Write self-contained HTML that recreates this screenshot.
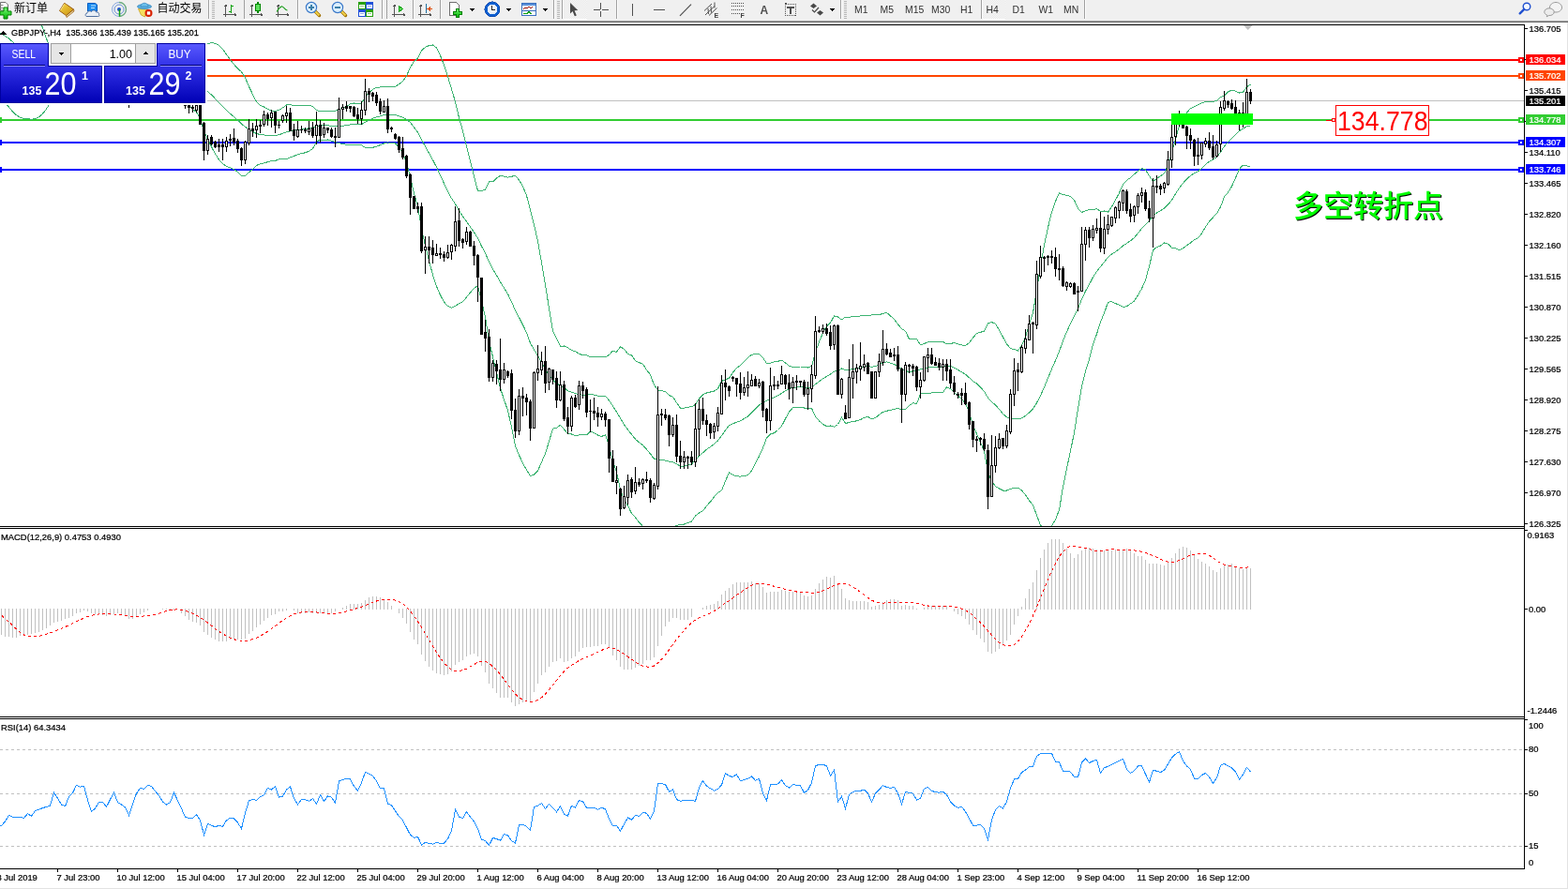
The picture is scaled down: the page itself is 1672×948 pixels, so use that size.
<!DOCTYPE html>
<html><head><meta charset="utf-8"><title>GBPJPY H4</title>
<style>
html,body{margin:0;padding:0;width:1672px;height:948px;overflow:hidden;background:#f0f0f0;}
</style></head><body>
<svg width="1672" height="948" viewBox="0 0 1672 948" style="position:absolute;left:0;top:0" shape-rendering="crispEdges">
<rect x="0" y="22" width="1672" height="926" fill="#fff"/>
<defs><pattern id="chk" width="2" height="2" patternUnits="userSpaceOnUse"><rect width="2" height="2" fill="#f7f7f7"/><rect width="1" height="1" fill="#e9e9e9"/><rect x="1" y="1" width="1" height="1" fill="#e9e9e9"/></pattern><linearGradient id="gplus" x1="0" y1="0" x2="0" y2="1"><stop offset="0" stop-color="#7cff7c"/><stop offset="1" stop-color="#00b000"/></linearGradient><linearGradient id="gold" x1="0" y1="0" x2="1" y2="1"><stop offset="0" stop-color="#f8d848"/><stop offset="1" stop-color="#c89010"/></linearGradient><radialGradient id="clk" cx="0.45" cy="0.4" r="0.6"><stop offset="0" stop-color="#ffffff"/><stop offset="0.7" stop-color="#e8f0f8"/><stop offset="1" stop-color="#c0d8f0"/></radialGradient></defs>
<rect x="0" y="0" width="1672" height="22" fill="#f0f0f0"/>
<g shape-rendering="geometricPrecision">
<path d="M0.5 2.5h5.5l2.5 2.5v6h-8z" fill="#fff" stroke="#707070" stroke-width="1"/>
<path d="M0.5 5.5h3M0.5 8.5h5" stroke="#909090" stroke-width="1"/>
<path d="M4 8h4v4h4v4h-4v4h-4v-4h-4v-4h4z" fill="url(#gplus)" stroke="#008000" stroke-width="1"/>
<path d="M70.5 16.5l8-6.5 0.5 2-8 6.5z" fill="#e8d8a0" stroke="#9a5c10" stroke-width="0.8"/>
<path d="M63.5 11.5L68.5 3.5c1 0 1.5 0.5 2 1l8 5.5-8 6.5z" fill="url(#gold)" stroke="#9a5c10" stroke-width="1"/>
<path d="M68.5 4.5l-4 6.5" fill="none" stroke="#fff2b0" stroke-width="0.8"/>
<path d="M93.5 3.5h8l2 1.5v7h-10z" fill="#1a8cf0" stroke="#0a5cc0" stroke-width="1"/>
<path d="M97 6h5M97 8.5h4" stroke="#bfe4ff" stroke-width="1"/>
<path d="M92 17.5c-1.5-1-1-3.5 1-3.5c0-2 3-3 4.5-1.5c1-2 4.5-2 5 0.5c2-0.5 3.5 1 3 2.5c1 1 0.5 2-1 2z" fill="#e8eef6" stroke="#5070a0" stroke-width="1"/>
<circle cx="127" cy="10" r="7.5" fill="none" stroke="#5c8ad8" stroke-width="1" stroke-opacity="0.7"/>
<circle cx="127" cy="10" r="5" fill="none" stroke="#4a78d0" stroke-width="1" stroke-opacity="0.8"/>
<path d="M127 2.5a7.5 7.5 0 0 1 0 15" fill="none" stroke="#5aa85a" stroke-width="1.4" stroke-opacity="0.7"/>
<circle cx="127" cy="10" r="2" fill="#2050c8"/><path d="M127.5 10v7.5" stroke="#10a010" stroke-width="1.5"/>
<path d="M147.5 9.5l3 6.5 4 2 3-8z" fill="#f4e060" stroke="#c8a020" stroke-width="0.8"/>
<ellipse cx="154" cy="7" rx="7.5" ry="2.5" fill="#5ab0e0" stroke="#3a88c0" stroke-width="0.8"/>
<path d="M150 7c0-5 8-5 8 0z" fill="#6cc0ec" stroke="#3a88c0" stroke-width="0.8"/>
<circle cx="158.5" cy="14" r="4" fill="#d82000"/><rect x="156.8" y="12.3" width="3.4" height="3.4" fill="#fff"/>
</g>
<text x="15" y="12.5" font-family="'Liberation Sans', 'Noto Sans CJK SC', 'WenQuanYi Zen Hei', sans-serif" font-size="12" fill="#000">新订单</text>
<text x="167.5" y="12.5" font-family="'Liberation Sans', 'Noto Sans CJK SC', 'WenQuanYi Zen Hei', sans-serif" font-size="12" fill="#000">自动交易</text>
<rect x="222" y="0" width="1" height="20" fill="#a0a0a0"/><rect x="223" y="0" width="1" height="20" fill="#ffffff"/>
<rect x="226" y="1" width="3" height="1" fill="#b8b8b8"/><rect x="226" y="3" width="3" height="1" fill="#b8b8b8"/><rect x="226" y="5" width="3" height="1" fill="#b8b8b8"/><rect x="226" y="7" width="3" height="1" fill="#b8b8b8"/><rect x="226" y="9" width="3" height="1" fill="#b8b8b8"/><rect x="226" y="11" width="3" height="1" fill="#b8b8b8"/><rect x="226" y="13" width="3" height="1" fill="#b8b8b8"/><rect x="226" y="15" width="3" height="1" fill="#b8b8b8"/><rect x="226" y="17" width="3" height="1" fill="#b8b8b8"/><rect x="226" y="19" width="3" height="1" fill="#b8b8b8"/>
<g shape-rendering="crispEdges" fill="#555555"><rect x="240.0" y="5" width="1" height="13"/><rect x="239.0" y="6" width="3" height="1"/><rect x="239.5" y="5" width="2" height="1"/><rect x="238.0" y="15.0" width="14" height="1"/><rect x="250.0" y="14.0" width="1" height="3"/><rect x="251.0" y="14.5" width="1" height="2"/></g>
<path d="M246.5 5v8.5M246.5 6.5h2.5M244 12.5h2.5" stroke="#10a010" stroke-width="1.2" fill="none"/>
<rect x="260" y="0" width="1" height="20" fill="#a0a0a0"/><rect x="261" y="0" width="1" height="20" fill="#ffffff"/>
<rect x="261" y="0" width="25" height="20" fill="url(#chk)"/><rect x="261" y="20" width="25" height="1" fill="#ffffff"/>
<g shape-rendering="crispEdges" fill="#555555"><rect x="268.0" y="5" width="1" height="13"/><rect x="267.0" y="6" width="3" height="1"/><rect x="267.5" y="5" width="2" height="1"/><rect x="266.0" y="15.0" width="14" height="1"/><rect x="278.0" y="14.0" width="1" height="3"/><rect x="279.0" y="14.5" width="1" height="2"/></g>
<path d="M275 2v12" stroke="#008800" stroke-width="1.2"/><rect x="272.7" y="4.5" width="4.6" height="7.4" fill="#60e060" stroke="#008800" stroke-width="1"/>
<g shape-rendering="crispEdges" fill="#555555"><rect x="296.0" y="5" width="1" height="13"/><rect x="295.0" y="6" width="3" height="1"/><rect x="295.5" y="5" width="2" height="1"/><rect x="294.0" y="15.0" width="14" height="1"/><rect x="306.0" y="14.0" width="1" height="3"/><rect x="307.0" y="14.5" width="1" height="2"/></g>
<path d="M295 12.5c2-2.5 4-6 6-5.5s3 4 5.5 4" stroke="#20a020" stroke-width="1.2" fill="none" shape-rendering="geometricPrecision"/>
<rect x="317" y="0" width="1" height="20" fill="#a0a0a0"/><rect x="318" y="0" width="1" height="20" fill="#ffffff"/>
<g shape-rendering="geometricPrecision"><path d="M335.5 11.5l5 5" stroke="#a07000" stroke-width="3.4" stroke-linecap="round"/><path d="M335.5 11.5l5 5" stroke="#f0d048" stroke-width="2"/><circle cx="332" cy="8" r="5.6" fill="#dcefff" stroke="#3a78c8" stroke-width="1.2"/><path d="M329 8h6" stroke="#3c7fa8" stroke-width="2"/><path d="M332 5v6" stroke="#3c7fa8" stroke-width="2"/></g>
<g shape-rendering="geometricPrecision"><path d="M363.5 11.5l5 5" stroke="#a07000" stroke-width="3.4" stroke-linecap="round"/><path d="M363.5 11.5l5 5" stroke="#f0d048" stroke-width="2"/><circle cx="360" cy="8" r="5.6" fill="#dcefff" stroke="#3a78c8" stroke-width="1.2"/><path d="M357 8h6" stroke="#3c7fa8" stroke-width="2"/></g>
<rect x="382" y="2" width="8" height="8" fill="#28a010"/><rect x="383" y="5" width="6" height="4" fill="#fff"/><rect x="384" y="6" width="4" height="1" fill="#28a010" opacity="0.5"/>
<rect x="390" y="2" width="8" height="8" fill="#2050d8"/><rect x="391" y="5" width="6" height="4" fill="#fff"/><rect x="392" y="6" width="4" height="1" fill="#2050d8" opacity="0.5"/>
<rect x="382" y="10" width="8" height="8" fill="#2050d8"/><rect x="383" y="13" width="6" height="4" fill="#fff"/><rect x="384" y="14" width="4" height="1" fill="#2050d8" opacity="0.5"/>
<rect x="390" y="10" width="8" height="8" fill="#28a010"/><rect x="391" y="13" width="6" height="4" fill="#fff"/><rect x="392" y="14" width="4" height="1" fill="#28a010" opacity="0.5"/>
<rect x="407" y="0" width="1" height="20" fill="#a0a0a0"/><rect x="408" y="0" width="1" height="20" fill="#ffffff"/>
<rect x="412" y="0" width="1" height="20" fill="#a0a0a0"/><rect x="413" y="0" width="1" height="20" fill="#ffffff"/>
<rect x="413" y="0" width="25" height="20" fill="url(#chk)"/><rect x="413" y="20" width="25" height="1" fill="#ffffff"/>
<g shape-rendering="crispEdges" fill="#555555"><rect x="420.0" y="5" width="1" height="13"/><rect x="419.0" y="6" width="3" height="1"/><rect x="419.5" y="5" width="2" height="1"/><rect x="418.0" y="15.0" width="14" height="1"/><rect x="430.0" y="14.0" width="1" height="3"/><rect x="431.0" y="14.5" width="1" height="2"/></g>
<path d="M425.5 6.5v6l4-3z" fill="#60e060" stroke="#10a010" stroke-width="1"/>
<rect x="440" y="0" width="1" height="20" fill="#a0a0a0"/><rect x="441" y="0" width="1" height="20" fill="#ffffff"/>
<rect x="442" y="0" width="24" height="20" fill="url(#chk)"/><rect x="442" y="20" width="24" height="1" fill="#ffffff"/>
<g shape-rendering="crispEdges" fill="#555555"><rect x="448.0" y="5" width="1" height="13"/><rect x="447.0" y="6" width="3" height="1"/><rect x="447.5" y="5" width="2" height="1"/><rect x="446.0" y="15.0" width="14" height="1"/><rect x="458.0" y="14.0" width="1" height="3"/><rect x="459.0" y="14.5" width="1" height="2"/></g>
<path d="M454.5 4v9.5" stroke="#2070a0" stroke-width="1.2"/><path d="M455.5 9.5l3-2.5v1.8h2v1.4h-2v1.8z" fill="#e05010"/>
<rect x="469" y="0" width="1" height="20" fill="#a0a0a0"/><rect x="470" y="0" width="1" height="20" fill="#ffffff"/>
<path d="M479.5 2.5h7l2.5 2.5v11h-9.5z" fill="#fff" stroke="#707070" stroke-width="1"/>
<path d="M486 9h3v3h3v3h-3v3h-3v-3h-3v-3h3z" fill="url(#gplus)" stroke="#008000" stroke-width="1"/>
<path d="M500.5 9h6l-3 3z" fill="#000"/>
<circle cx="525" cy="10" r="6.8" fill="url(#clk)" stroke="#1060d0" stroke-width="2.6"/><circle cx="525" cy="10" r="8.1" fill="none" stroke="#0a40a0" stroke-width="0.6"/>
<path d="M524.5 6v4.5h3" stroke="#202020" stroke-width="1.2" fill="none"/>
<path d="M539.5 9h6l-3 3z" fill="#000"/>
<rect x="556.5" y="3.5" width="15" height="13" fill="#fff" stroke="#3a70c0" stroke-width="1"/><rect x="557" y="4" width="14" height="2" fill="#5a90d8"/><path d="M557 11h14" stroke="#3a70c0"/>
<path d="M558 9.5l2-1 2 0.5 2-1.5 2 1 2-1" stroke="#a01000" stroke-width="1" fill="none"/><path d="M558 15l2-1 2 0.5 2-2 2 2 1.5-1" stroke="#10a010" stroke-width="1" fill="none"/>
<path d="M578.5 9h6l-3 3z" fill="#000"/>
<rect x="590" y="0" width="1" height="20" fill="#a0a0a0"/><rect x="591" y="0" width="1" height="20" fill="#ffffff"/>
<rect x="594" y="1" width="3" height="1" fill="#b8b8b8"/><rect x="594" y="3" width="3" height="1" fill="#b8b8b8"/><rect x="594" y="5" width="3" height="1" fill="#b8b8b8"/><rect x="594" y="7" width="3" height="1" fill="#b8b8b8"/><rect x="594" y="9" width="3" height="1" fill="#b8b8b8"/><rect x="594" y="11" width="3" height="1" fill="#b8b8b8"/><rect x="594" y="13" width="3" height="1" fill="#b8b8b8"/><rect x="594" y="15" width="3" height="1" fill="#b8b8b8"/><rect x="594" y="17" width="3" height="1" fill="#b8b8b8"/><rect x="594" y="19" width="3" height="1" fill="#b8b8b8"/>
<rect x="599" y="0" width="1" height="20" fill="#a0a0a0"/><rect x="600" y="0" width="1" height="20" fill="#ffffff"/>
<rect x="601" y="0" width="25" height="20" fill="url(#chk)"/><rect x="601" y="20" width="25" height="1" fill="#ffffff"/>
<path d="M608 3L608 14.5L610.6 12L612.8 17.2L614.8 16.4L612.6 11.3L616.2 11.1Z" fill="#484848" shape-rendering="geometricPrecision"/>
<path d="M640.5 3v7M640.5 11.5v6M633 10.5h7M641.5 10.5h7" stroke="#505050" stroke-width="1.2"/>
<rect x="657" y="0" width="1" height="20" fill="#a0a0a0"/><rect x="658" y="0" width="1" height="20" fill="#ffffff"/>
<path d="M674.5 4v13" stroke="#505050" stroke-width="1.3"/>
<path d="M697 10.5h12" stroke="#505050" stroke-width="1.3"/>
<path d="M725 16.8L737 4.7" stroke="#505050" stroke-width="1.2" shape-rendering="geometricPrecision"/>
<g shape-rendering="geometricPrecision" stroke="#505050" fill="none" stroke-width="1"><path d="M751 11.5l8-7.5M752 16l10-9.5M756 16.5l8.5-8"/><path d="M755 9l0.5 6M758 6.5l0.5 7M762 2.5v6"/></g>
<text x="761.5" y="19" font-family="'Liberation Sans', Arial, sans-serif" font-size="7" font-weight="bold" fill="#404040">E</text>
<path d="M780 3.5h13" stroke="#505050" stroke-width="1" stroke-dasharray="1,1"/>
<path d="M780 6.5h13" stroke="#505050" stroke-width="1" stroke-dasharray="1,1"/>
<path d="M780 10.5h13" stroke="#505050" stroke-width="1" stroke-dasharray="1,1"/>
<path d="M780 14.5h9" stroke="#505050" stroke-width="1" stroke-dasharray="1,1"/>
<text x="789.5" y="19" font-family="'Liberation Sans', Arial, sans-serif" font-size="7" font-weight="bold" fill="#404040">F</text>
<text x="810.5" y="15" font-family="'Liberation Sans', Arial, sans-serif" font-size="12" font-weight="bold" fill="#505050">A</text>
<rect x="837.5" y="4.5" width="11" height="12" fill="none" stroke="#505050" stroke-width="1" stroke-dasharray="1,1"/>
<path d="M839 7.5h7.5M842.75 7.5v7.5" stroke="#505050" stroke-width="2"/><rect x="836.5" y="3" width="2" height="2" fill="#505050"/>
<path d="M864 6.5l3.5-3 3.5 3-3.5 2.5z" fill="#484848" shape-rendering="geometricPrecision"/><path d="M871 13.5l3.5-2.5 3.5 2.5-3.5 3z" fill="#484848" shape-rendering="geometricPrecision"/><path d="M866 10.5l2.5 2.5 4.5-5" stroke="#484848" stroke-width="1.2" fill="none" shape-rendering="geometricPrecision"/>
<path d="M884.5 9h6l-3 3z" fill="#000"/>
<rect x="896" y="0" width="1" height="20" fill="#a0a0a0"/><rect x="897" y="0" width="1" height="20" fill="#ffffff"/>
<rect x="900" y="1" width="3" height="1" fill="#b8b8b8"/><rect x="900" y="3" width="3" height="1" fill="#b8b8b8"/><rect x="900" y="5" width="3" height="1" fill="#b8b8b8"/><rect x="900" y="7" width="3" height="1" fill="#b8b8b8"/><rect x="900" y="9" width="3" height="1" fill="#b8b8b8"/><rect x="900" y="11" width="3" height="1" fill="#b8b8b8"/><rect x="900" y="13" width="3" height="1" fill="#b8b8b8"/><rect x="900" y="15" width="3" height="1" fill="#b8b8b8"/><rect x="900" y="17" width="3" height="1" fill="#b8b8b8"/><rect x="900" y="19" width="3" height="1" fill="#b8b8b8"/>
<rect x="1046" y="0" width="1" height="20" fill="#a0a0a0"/><rect x="1047" y="0" width="1" height="20" fill="#ffffff"/>
<rect x="1048" y="0" width="24" height="20" fill="url(#chk)"/><rect x="1048" y="20" width="24" height="1" fill="#ffffff"/>
<text x="911.0" y="14" font-family="'Liberation Sans', Arial, sans-serif" font-size="10.4" fill="#303030">M1</text>
<text x="938.5" y="14" font-family="'Liberation Sans', Arial, sans-serif" font-size="10.4" fill="#303030">M5</text>
<text x="965.0" y="14" font-family="'Liberation Sans', Arial, sans-serif" font-size="10.4" fill="#303030">M15</text>
<text x="993.0" y="14" font-family="'Liberation Sans', Arial, sans-serif" font-size="10.4" fill="#303030">M30</text>
<text x="1024.0" y="14" font-family="'Liberation Sans', Arial, sans-serif" font-size="10.4" fill="#303030">H1</text>
<text x="1051.5" y="14" font-family="'Liberation Sans', Arial, sans-serif" font-size="10.4" fill="#303030">H4</text>
<text x="1079.5" y="14" font-family="'Liberation Sans', Arial, sans-serif" font-size="10.4" fill="#303030">D1</text>
<text x="1107.5" y="14" font-family="'Liberation Sans', Arial, sans-serif" font-size="10.4" fill="#303030">W1</text>
<text x="1134.0" y="14" font-family="'Liberation Sans', Arial, sans-serif" font-size="10.4" fill="#303030">MN</text>
<rect x="1156" y="0" width="1" height="20" fill="#a0a0a0"/><rect x="1157" y="0" width="1" height="20" fill="#ffffff"/>
<g shape-rendering="geometricPrecision"><circle cx="1628" cy="7" r="3.8" fill="#f4f8ff" stroke="#2050d0" stroke-width="1.4"/><path d="M1625.2 9.8l-4.5 4.5" stroke="#2050d0" stroke-width="2.4" stroke-linecap="round"/></g>
<g shape-rendering="geometricPrecision" stroke="#909090" stroke-width="0.9"><path d="M1654 11.5c-1-1-1.5-2-1.5-3.5c0-3 3-5.5 6.5-5.5s6.5 2.5 6.5 5.5-3 5-6.5 5c-0.5 0-1 0-1.5-0.1l-2 1.6z" fill="#f4f4f4"/><path d="M1650 16.5l-0.8 1.3 2.5-1.3c3 0.3 5.5-1.5 5.5-3.7s-2.3-4-5.2-4-5.2 1.8-5.2 4c0 1.3 1 2.3 2.2 3z" fill="#ececec"/></g>
<rect x="0" y="22" width="1672" height="1" fill="#a0a0a0"/>
<rect x="0" y="23" width="1672" height="1" fill="#696969"/>
<rect x="1671" y="24" width="1" height="924" fill="#e3e3e3"/>
<rect x="0" y="947" width="1672" height="1" fill="#e3e3e3"/>
<defs><clipPath id="cm"><rect x="0" y="27" width="1625" height="534"/></clipPath><clipPath id="cd"><rect x="0" y="564" width="1625" height="200"/></clipPath><clipPath id="cr"><rect x="0" y="767" width="1625" height="159"/></clipPath></defs>
<g clip-path="url(#cm)">
<rect x="0" y="107" width="1625" height="1" fill="#c0c0c0"/>
<rect x="0" y="63" width="1625" height="2" fill="#ff0000"/>
<rect x="-4" y="61" width="6" height="6" fill="#ff0000"/><rect x="-2" y="63" width="2" height="2" fill="#fff"/>
<rect x="0" y="80" width="1625" height="2" fill="#ff4500"/>
<rect x="-4" y="78" width="6" height="6" fill="#ff4500"/><rect x="-2" y="80" width="2" height="2" fill="#fff"/>
<rect x="0" y="127" width="1625" height="2" fill="#32cd32"/>
<rect x="-4" y="125" width="6" height="6" fill="#32cd32"/><rect x="-2" y="127" width="2" height="2" fill="#fff"/>
<rect x="0" y="151" width="1625" height="2" fill="#0000ff"/>
<rect x="-4" y="149" width="6" height="6" fill="#0000ff"/><rect x="-2" y="151" width="2" height="2" fill="#fff"/>
<rect x="0" y="180" width="1625" height="2" fill="#0000ff"/>
<rect x="-4" y="178" width="6" height="6" fill="#0000ff"/><rect x="-2" y="180" width="2" height="2" fill="#fff"/>
<polyline fill="none" stroke="#3cb371" stroke-width="1" points="-2.5,33.6 1.5,36.0 5.5,38.5 9.5,41.1 13.5,44.6 17.5,48.7 21.5,53.1 25.5,57.6 29.5,61.7 33.5,65.6 37.5,69.0 41.5,72.3 45.5,75.6 49.5,78.6 53.5,81.3 57.5,82.7 61.5,83.7 65.5,84.4 69.5,84.5 73.5,83.5 77.5,81.6 81.5,80.0 85.5,78.7 89.5,77.7 93.5,77.3 97.5,77.5 101.5,77.7 105.5,77.3 109.5,77.3 113.5,77.2 117.5,77.1 121.5,76.6 125.5,76.9 129.5,77.3 133.5,78.0 137.5,79.9 141.5,80.9 145.5,80.9 149.5,80.4 153.5,80.5 157.5,80.4 161.5,80.9 165.5,81.6 169.5,82.6 173.5,83.2 177.5,83.2 181.5,83.2 185.5,83.1 189.5,83.5 193.5,83.8 197.5,85.3 201.5,87.4 205.5,88.8 209.5,90.0 213.5,92.0 217.5,94.7 221.5,97.5 225.5,101.1 229.5,105.2 233.5,109.3 237.5,113.6 241.5,117.6 245.5,121.2 249.5,124.7 253.5,128.2 257.5,132.1 261.5,135.2 265.5,138.1 269.5,140.5 273.5,142.5 277.5,143.5 281.5,144.0 285.5,144.5 289.5,144.8 293.5,144.9 297.5,143.6 301.5,142.4 305.5,140.7 309.5,139.9 313.5,139.3 317.5,138.5 321.5,137.9 325.5,137.5 329.5,136.8 333.5,136.1 337.5,134.2 341.5,133.9 345.5,133.8 349.5,133.8 353.5,134.3 357.5,135.0 361.5,134.7 365.5,134.1 369.5,133.9 373.5,132.9 377.5,132.4 381.5,132.6 385.5,132.5 389.5,130.4 393.5,128.1 397.5,126.3 401.5,124.8 405.5,123.8 409.5,122.6 413.5,122.2 417.5,122.4 421.5,122.6 425.5,123.7 429.5,125.2 433.5,127.3 437.5,130.5 441.5,135.8 445.5,141.2 449.5,148.8 453.5,156.2 457.5,163.3 461.5,170.6 465.5,178.2 469.5,186.9 473.5,195.6 477.5,204.0 481.5,211.6 485.5,217.5 489.5,224.6 493.5,230.7 497.5,236.2 501.5,242.0 505.5,247.6 509.5,254.1 513.5,262.5 517.5,270.0 521.5,279.0 525.5,287.2 529.5,293.6 533.5,300.6 537.5,307.1 541.5,313.5 545.5,321.8 549.5,331.2 553.5,338.6 557.5,346.4 561.5,354.8 565.5,365.8 569.5,372.8 573.5,379.6 577.5,386.5 581.5,393.7 585.5,399.8 589.5,405.2 593.5,408.7 597.5,411.2 601.5,413.4 605.5,416.7 609.5,418.2 613.5,419.6 617.5,420.5 621.5,421.3 625.5,421.4 629.5,420.3 633.5,421.2 637.5,422.2 641.5,422.8 645.5,422.4 649.5,427.0 653.5,433.0 657.5,439.3 661.5,446.0 665.5,452.8 669.5,458.2 673.5,463.2 677.5,468.3 681.5,471.8 685.5,474.7 689.5,479.1 693.5,484.0 697.5,489.3 701.5,490.6 705.5,490.7 709.5,491.1 713.5,492.2 717.5,492.7 721.5,494.9 725.5,497.2 729.5,497.1 733.5,495.9 737.5,494.9 741.5,490.6 745.5,486.0 749.5,482.8 753.5,479.2 757.5,476.5 761.5,473.4 765.5,469.9 769.5,464.7 773.5,458.8 777.5,453.7 781.5,451.8 785.5,450.2 789.5,448.8 793.5,446.3 797.5,444.1 801.5,440.1 805.5,436.0 809.5,432.1 813.5,429.5 817.5,427.3 821.5,425.0 825.5,423.8 829.5,421.9 833.5,419.3 837.5,416.7 841.5,414.7 845.5,413.0 849.5,413.0 853.5,412.8 857.5,413.0 861.5,413.5 865.5,413.0 869.5,409.8 873.5,406.8 877.5,403.8 881.5,401.3 885.5,399.1 889.5,396.1 893.5,395.2 897.5,393.0 901.5,394.8 905.5,394.3 909.5,393.6 913.5,393.2 917.5,392.3 921.5,391.0 925.5,390.5 929.5,391.3 933.5,390.7 937.5,389.0 941.5,386.9 945.5,385.8 949.5,387.1 953.5,388.4 957.5,390.6 961.5,393.8 965.5,394.9 969.5,397.0 973.5,395.7 977.5,396.0 981.5,393.9 985.5,392.9 989.5,392.0 993.5,391.7 997.5,391.6 1001.5,391.8 1005.5,391.3 1009.5,389.9 1013.5,390.5 1017.5,392.1 1021.5,394.5 1025.5,396.7 1029.5,399.2 1033.5,402.8 1037.5,406.6 1041.5,409.0 1045.5,413.0 1049.5,417.4 1053.5,424.2 1057.5,428.4 1061.5,432.0 1065.5,436.4 1069.5,441.3 1073.5,444.9 1077.5,446.5 1081.5,446.7 1085.5,447.0 1089.5,445.8 1093.5,443.5 1097.5,439.9 1101.5,436.1 1105.5,429.6 1109.5,421.9 1113.5,413.0 1117.5,403.2 1121.5,393.5 1125.5,384.4 1129.5,374.8 1133.5,363.5 1137.5,353.8 1141.5,345.1 1145.5,337.3 1149.5,329.1 1153.5,319.2 1157.5,310.4 1161.5,303.3 1165.5,295.7 1169.5,289.3 1173.5,284.5 1177.5,279.4 1181.5,274.2 1185.5,271.1 1189.5,268.5 1193.5,265.5 1197.5,262.0 1201.5,259.5 1205.5,256.7 1209.5,253.4 1213.5,248.6 1217.5,243.7 1221.5,239.8 1225.5,235.7 1229.5,230.1 1233.5,227.0 1237.5,224.8 1241.5,221.9 1245.5,218.2 1249.5,213.4 1253.5,206.6 1257.5,200.4 1261.5,195.3 1265.5,190.9 1269.5,187.3 1273.5,184.8 1277.5,182.9 1281.5,179.3 1285.5,175.3 1289.5,172.2 1293.5,170.1 1297.5,167.6 1301.5,162.2 1305.5,155.9 1309.5,151.6 1313.5,147.4 1317.5,143.4 1321.5,139.7 1325.5,137.2 1329.5,134.8 1333.5,133.8" />
<polyline fill="none" stroke="#3cb371" stroke-width="1" points="-2.5,-29.8 1.5,-31.1 5.5,-32.5 9.5,-32.0 13.5,-29.9 17.5,-25.6 21.5,-19.0 25.5,-11.2 29.5,-3.3 33.5,3.9 37.5,11.2 41.5,19.6 45.5,29.8 49.5,41.1 53.5,52.5 57.5,60.5 61.5,65.9 65.5,68.3 69.5,68.5 73.5,67.4 77.5,68.3 81.5,64.9 85.5,62.3 89.5,59.7 93.5,59.5 97.5,59.1 101.5,58.9 105.5,59.2 109.5,59.2 113.5,59.3 117.5,59.3 121.5,58.9 125.5,58.8 129.5,58.6 133.5,58.1 137.5,57.6 141.5,58.1 145.5,58.1 149.5,57.3 153.5,57.5 157.5,57.3 161.5,59.2 165.5,61.4 169.5,64.7 173.5,65.4 177.5,65.4 181.5,65.4 185.5,65.2 189.5,65.3 193.5,65.1 197.5,62.9 201.5,62.5 205.5,61.2 209.5,60.5 213.5,57.3 217.5,49.3 221.5,46.6 225.5,45.5 229.5,46.4 233.5,48.4 237.5,52.6 241.5,58.0 245.5,63.4 249.5,68.7 253.5,73.0 257.5,76.7 261.5,82.8 265.5,92.4 269.5,100.7 273.5,108.6 277.5,112.2 281.5,114.0 285.5,116.3 289.5,118.1 293.5,118.3 297.5,117.5 301.5,114.9 305.5,111.9 309.5,111.9 313.5,112.2 317.5,112.4 321.5,112.3 325.5,112.3 329.5,112.4 333.5,113.5 337.5,117.7 341.5,118.6 345.5,118.6 349.5,118.6 353.5,118.4 357.5,118.3 361.5,116.9 365.5,114.6 369.5,113.5 373.5,110.9 377.5,110.0 381.5,110.4 385.5,110.0 389.5,103.4 393.5,98.9 397.5,95.3 401.5,93.4 405.5,93.0 409.5,92.1 413.5,92.6 417.5,92.5 421.5,92.2 425.5,89.8 429.5,86.8 433.5,81.0 437.5,72.0 441.5,65.5 445.5,62.3 449.5,53.8 453.5,50.4 457.5,48.6 461.5,48.0 465.5,51.0 469.5,59.2 473.5,69.2 477.5,81.5 481.5,94.9 485.5,108.5 489.5,125.6 493.5,139.5 497.5,155.6 501.5,172.0 505.5,187.8 509.5,203.4 513.5,203.7 517.5,202.2 521.5,193.6 525.5,194.0 529.5,189.9 533.5,187.4 537.5,188.1 541.5,189.2 545.5,188.3 549.5,187.1 553.5,191.9 557.5,198.8 561.5,208.5 565.5,223.8 569.5,239.7 573.5,257.1 577.5,280.1 581.5,303.7 585.5,328.9 589.5,353.1 593.5,361.1 597.5,369.2 601.5,369.0 605.5,370.8 609.5,373.4 613.5,374.8 617.5,377.1 621.5,378.9 625.5,378.8 629.5,380.6 633.5,380.7 637.5,380.4 641.5,380.3 645.5,381.0 649.5,378.3 653.5,374.1 657.5,375.4 661.5,369.7 665.5,372.5 669.5,377.3 673.5,378.8 677.5,384.9 681.5,386.6 685.5,388.2 689.5,394.5 693.5,399.4 697.5,410.6 701.5,415.9 705.5,416.6 709.5,417.8 713.5,421.6 717.5,423.2 721.5,429.4 725.5,435.3 729.5,435.2 733.5,434.3 737.5,433.7 741.5,431.4 745.5,425.0 749.5,420.9 753.5,419.0 757.5,418.0 761.5,417.1 765.5,414.5 769.5,406.5 773.5,404.6 777.5,403.4 781.5,397.1 785.5,392.5 789.5,389.4 793.5,385.4 797.5,381.4 801.5,378.2 805.5,377.8 809.5,377.6 813.5,381.3 817.5,387.5 821.5,387.1 825.5,385.8 829.5,385.3 833.5,384.1 837.5,386.9 841.5,390.3 845.5,391.4 849.5,391.3 853.5,391.0 857.5,391.0 861.5,392.0 865.5,390.6 869.5,375.4 873.5,364.6 877.5,355.0 881.5,348.0 885.5,344.2 889.5,336.9 893.5,337.9 897.5,340.9 901.5,338.1 905.5,338.1 909.5,337.8 913.5,337.5 917.5,337.0 921.5,336.6 925.5,336.5 929.5,335.9 933.5,335.7 937.5,335.6 941.5,334.4 945.5,333.4 949.5,336.9 953.5,340.4 957.5,345.9 961.5,350.6 965.5,353.2 969.5,361.5 973.5,361.6 977.5,361.5 981.5,367.8 985.5,366.4 989.5,364.8 993.5,364.5 997.5,364.3 1001.5,364.5 1005.5,364.2 1009.5,367.0 1013.5,366.4 1017.5,365.6 1021.5,366.8 1025.5,368.0 1029.5,368.2 1033.5,365.7 1037.5,360.1 1041.5,355.4 1045.5,354.3 1049.5,353.2 1053.5,344.9 1057.5,343.5 1061.5,345.4 1065.5,351.8 1069.5,359.5 1073.5,366.8 1077.5,371.7 1081.5,372.6 1085.5,374.0 1089.5,368.5 1093.5,359.2 1097.5,345.8 1101.5,333.6 1105.5,309.6 1109.5,283.8 1113.5,261.7 1117.5,242.5 1121.5,226.4 1125.5,214.7 1129.5,205.8 1133.5,207.6 1137.5,208.2 1141.5,209.3 1145.5,213.4 1149.5,222.2 1153.5,226.5 1157.5,224.7 1161.5,223.4 1165.5,223.9 1169.5,222.6 1173.5,225.6 1177.5,225.0 1181.5,226.1 1185.5,220.4 1189.5,213.3 1193.5,205.8 1197.5,196.7 1201.5,192.3 1205.5,189.5 1209.5,185.8 1213.5,182.4 1217.5,179.7 1221.5,181.0 1225.5,187.5 1229.5,193.3 1233.5,190.6 1237.5,187.6 1241.5,184.9 1245.5,176.4 1249.5,162.6 1253.5,148.5 1257.5,134.0 1261.5,125.8 1265.5,120.0 1269.5,115.6 1273.5,113.7 1277.5,111.9 1281.5,109.8 1285.5,108.7 1289.5,108.3 1293.5,108.4 1297.5,107.6 1301.5,103.5 1305.5,101.9 1309.5,97.9 1313.5,96.1 1317.5,97.1 1321.5,99.0 1325.5,98.3 1329.5,92.7 1333.5,90.2" />
<polyline fill="none" stroke="#3cb371" stroke-width="1" points="-2.5,97.0 1.5,103.2 5.5,109.4 9.5,114.2 13.5,119.1 17.5,122.9 21.5,125.2 25.5,126.5 29.5,126.6 33.5,127.2 37.5,126.7 41.5,124.9 45.5,121.3 49.5,116.1 53.5,110.1 57.5,104.9 61.5,101.6 65.5,100.6 69.5,100.6 73.5,99.7 77.5,95.0 81.5,95.1 85.5,95.1 89.5,95.8 93.5,95.0 97.5,95.9 101.5,96.4 105.5,95.5 109.5,95.4 113.5,95.2 117.5,94.9 121.5,94.3 125.5,94.9 129.5,96.0 133.5,97.9 137.5,102.2 141.5,103.7 145.5,103.7 149.5,103.4 153.5,103.4 157.5,103.5 161.5,102.6 165.5,101.8 169.5,100.4 173.5,100.9 177.5,101.0 181.5,101.1 185.5,101.1 189.5,101.6 193.5,102.4 197.5,107.7 201.5,112.3 205.5,116.5 209.5,119.5 213.5,126.7 217.5,140.2 221.5,148.4 225.5,156.6 229.5,164.0 233.5,170.2 237.5,174.7 241.5,177.2 245.5,178.9 249.5,180.7 253.5,183.4 257.5,187.5 261.5,187.5 265.5,183.7 269.5,180.4 273.5,176.4 277.5,174.9 281.5,173.9 285.5,172.7 289.5,171.6 293.5,171.5 297.5,169.7 301.5,169.9 305.5,169.5 309.5,167.9 313.5,166.5 317.5,164.6 321.5,163.6 325.5,162.8 329.5,161.2 333.5,158.6 337.5,150.8 341.5,149.2 345.5,149.1 349.5,149.0 353.5,150.2 357.5,151.7 361.5,152.5 365.5,153.6 369.5,154.2 373.5,154.9 377.5,154.8 381.5,154.8 385.5,154.9 389.5,157.3 393.5,157.4 397.5,157.3 401.5,156.2 405.5,154.6 409.5,153.0 413.5,151.9 417.5,152.4 421.5,152.9 425.5,157.6 429.5,163.5 433.5,173.6 437.5,189.0 441.5,206.0 445.5,220.0 449.5,243.7 453.5,262.0 457.5,278.1 461.5,293.1 465.5,305.4 469.5,314.6 473.5,322.1 477.5,326.5 481.5,328.3 485.5,326.4 489.5,323.6 493.5,321.9 497.5,316.8 501.5,312.0 505.5,307.5 509.5,304.7 513.5,321.3 517.5,337.8 521.5,364.4 525.5,380.5 529.5,397.3 533.5,413.9 537.5,426.1 541.5,437.8 545.5,455.4 549.5,475.3 553.5,485.3 557.5,494.0 561.5,501.0 565.5,507.7 569.5,506.0 573.5,502.0 577.5,492.8 581.5,483.7 585.5,470.6 589.5,457.2 593.5,456.2 597.5,453.2 601.5,457.8 605.5,462.6 609.5,463.0 613.5,464.4 617.5,463.9 621.5,463.7 625.5,463.9 629.5,460.0 633.5,461.8 637.5,464.0 641.5,465.4 645.5,463.8 649.5,475.7 653.5,491.9 657.5,503.2 661.5,522.3 665.5,533.1 669.5,539.2 673.5,547.5 677.5,551.8 681.5,557.1 685.5,561.2 689.5,563.7 693.5,568.6 697.5,568.0 701.5,565.2 705.5,564.9 709.5,564.4 713.5,562.9 717.5,562.2 721.5,560.5 725.5,559.0 729.5,559.0 733.5,557.5 737.5,556.1 741.5,549.9 745.5,547.0 749.5,544.7 753.5,539.4 757.5,535.1 761.5,529.8 765.5,525.3 769.5,522.9 773.5,512.9 777.5,504.0 781.5,506.5 785.5,507.8 789.5,508.1 793.5,507.2 797.5,506.9 801.5,501.9 805.5,494.3 809.5,486.5 813.5,477.7 817.5,467.1 821.5,462.9 825.5,461.7 829.5,458.5 833.5,454.4 837.5,446.5 841.5,439.1 845.5,434.7 849.5,434.7 853.5,434.5 857.5,435.0 861.5,435.0 865.5,435.4 869.5,444.1 873.5,448.9 877.5,452.5 881.5,454.5 885.5,454.0 889.5,455.3 893.5,452.5 897.5,445.1 901.5,451.4 905.5,450.6 909.5,449.3 913.5,448.9 917.5,447.5 921.5,445.3 925.5,444.4 929.5,446.7 933.5,445.7 937.5,442.3 941.5,439.4 945.5,438.2 949.5,437.4 953.5,436.4 957.5,435.3 961.5,437.1 965.5,436.5 969.5,432.6 973.5,429.7 977.5,430.6 981.5,420.0 985.5,419.3 989.5,419.1 993.5,419.0 997.5,418.9 1001.5,419.0 1005.5,418.4 1009.5,412.7 1013.5,414.5 1017.5,418.5 1021.5,422.2 1025.5,425.4 1029.5,430.1 1033.5,439.9 1037.5,453.0 1041.5,462.7 1045.5,471.7 1049.5,481.5 1053.5,503.5 1057.5,513.3 1061.5,518.6 1065.5,521.0 1069.5,523.0 1073.5,523.0 1077.5,521.2 1081.5,520.8 1085.5,520.1 1089.5,523.1 1093.5,527.7 1097.5,533.9 1101.5,538.6 1105.5,549.7 1109.5,559.9 1113.5,564.3 1117.5,563.9 1121.5,560.6 1125.5,554.0 1129.5,543.8 1133.5,519.4 1137.5,499.5 1141.5,480.9 1145.5,461.3 1149.5,436.0 1153.5,411.8 1157.5,396.1 1161.5,383.2 1165.5,367.5 1169.5,356.1 1173.5,343.3 1177.5,333.9 1181.5,322.2 1185.5,321.8 1189.5,323.6 1193.5,325.2 1197.5,327.4 1201.5,326.7 1205.5,323.9 1209.5,320.9 1213.5,314.7 1217.5,307.8 1221.5,298.5 1225.5,284.0 1229.5,266.9 1233.5,263.4 1237.5,262.0 1241.5,258.9 1245.5,260.1 1249.5,264.2 1253.5,264.6 1257.5,266.8 1261.5,264.7 1265.5,261.8 1269.5,258.9 1273.5,255.8 1277.5,253.9 1281.5,248.9 1285.5,242.0 1289.5,236.0 1293.5,231.8 1297.5,227.5 1301.5,220.8 1305.5,209.9 1309.5,205.2 1313.5,198.7 1317.5,189.7 1321.5,180.3 1325.5,176.1 1329.5,176.9 1333.5,177.5" />
<path fill="#000" d="M1 91h1v18h-1zM5 84h1v13h-1zM9 78h1v14h-1zM13 79h1v10h-1zM17 82h1v9h-1zM21 85h1v4h-1zM25 85h1v8h-1zM29 80h1v10h-1zM33 79h1v16h-1zM37 81h1v12h-1zM41 81h1v4h-1zM45 78h1v6h-1zM49 79h1v5h-1zM53 78h1v5h-1zM57 64h1v20h-1zM61 64h1v13h-1zM65 70h1v15h-1zM69 78h1v7h-1zM73 69h1v19h-1zM77 66h1v12h-1zM81 59h1v13h-1zM85 59h1v5h-1zM89 58h1v8h-1zM93 57h1v22h-1zM97 71h1v25h-1zM101 88h1v6h-1zM105 78h1v14h-1zM109 78h1v7h-1zM113 81h1v11h-1zM117 78h1v13h-1zM121 72h1v12h-1zM125 69h1v21h-1zM129 85h1v6h-1zM133 88h1v6h-1zM137 89h1v26h-1zM141 90h1v18h-1zM145 79h1v19h-1zM149 72h1v12h-1zM153 72h1v6h-1zM157 67h1v10h-1zM161 64h1v11h-1zM165 69h1v12h-1zM169 75h1v9h-1zM173 77h1v15h-1zM177 87h1v11h-1zM181 88h1v7h-1zM185 76h1v17h-1zM189 78h1v13h-1zM193 88h1v10h-1zM197 92h1v24h-1zM201 108h1v13h-1zM205 110h1v10h-1zM209 112h1v8h-1zM213 112h1v21h-1zM217 130h1v41h-1zM221 144h1v21h-1zM225 144h1v11h-1zM229 150h1v8h-1zM233 148h1v14h-1zM237 148h1v23h-1zM241 146h1v16h-1zM245 143h1v13h-1zM249 137h1v18h-1zM253 148h1v15h-1zM257 157h1v20h-1zM261 150h1v25h-1zM265 127h1v28h-1zM269 131h1v15h-1zM273 127h1v20h-1zM277 128h1v14h-1zM281 118h1v17h-1zM285 120h1v14h-1zM289 117h1v19h-1zM293 119h1v23h-1zM297 129h1v8h-1zM301 122h1v9h-1zM305 113h1v18h-1zM309 115h1v25h-1zM313 132h1v18h-1zM317 129h1v18h-1zM321 134h1v8h-1zM325 136h1v6h-1zM329 129h1v15h-1zM333 130h1v17h-1zM337 119h1v35h-1zM341 128h1v24h-1zM345 131h1v16h-1zM349 136h1v6h-1zM353 136h1v11h-1zM357 136h1v21h-1zM361 104h1v43h-1zM365 111h1v16h-1zM369 108h1v11h-1zM373 113h1v7h-1zM377 113h1v12h-1zM381 115h1v17h-1zM385 108h1v25h-1zM389 84h1v39h-1zM393 94h1v15h-1zM397 98h1v10h-1zM401 98h1v15h-1zM405 105h1v17h-1zM409 107h1v13h-1zM413 105h1v37h-1zM417 135h1v6h-1zM421 142h1v7h-1zM425 145h1v18h-1zM429 146h1v24h-1zM433 165h1v25h-1zM437 185h1v44h-1zM441 209h1v14h-1zM445 216h1v11h-1zM449 216h1v54h-1zM453 252h1v40h-1zM457 252h1v29h-1zM461 256h1v25h-1zM465 260h1v13h-1zM469 264h1v12h-1zM473 268h1v11h-1zM477 261h1v15h-1zM481 260h1v17h-1zM485 220h1v48h-1zM489 222h1v41h-1zM493 254h1v11h-1zM497 242h1v19h-1zM501 246h1v17h-1zM505 257h1v26h-1zM509 271h1v51h-1zM513 296h1v61h-1zM517 341h1v34h-1zM521 351h1v56h-1zM525 384h1v23h-1zM529 384h1v26h-1zM533 361h1v56h-1zM537 387h1v22h-1zM541 395h1v8h-1zM545 394h1v53h-1zM549 425h1v42h-1zM553 415h1v49h-1zM557 413h1v31h-1zM561 420h1v23h-1zM565 426h1v44h-1zM569 396h1v61h-1zM573 368h1v38h-1zM577 375h1v25h-1zM581 369h1v50h-1zM585 392h1v24h-1zM589 394h1v16h-1zM593 396h1v39h-1zM597 396h1v32h-1zM601 406h1v43h-1zM605 434h1v29h-1zM609 422h1v38h-1zM613 421h1v14h-1zM617 406h1v31h-1zM621 407h1v18h-1zM625 413h1v32h-1zM629 426h1v35h-1zM633 424h1v24h-1zM637 434h1v21h-1zM641 436h1v12h-1zM645 439h1v16h-1zM649 447h1v57h-1zM653 480h1v34h-1zM657 497h1v30h-1zM661 520h1v30h-1zM665 518h1v25h-1zM669 506h1v32h-1zM673 509h1v22h-1zM677 498h1v29h-1zM681 510h1v9h-1zM685 510h1v12h-1zM689 503h1v12h-1zM693 510h1v26h-1zM697 515h1v18h-1zM701 412h1v110h-1zM705 436h1v18h-1zM709 436h1v12h-1zM713 442h1v34h-1zM717 445h1v21h-1zM721 442h1v51h-1zM725 470h1v30h-1zM729 481h1v19h-1zM733 486h1v14h-1zM737 481h1v15h-1zM741 430h1v68h-1zM745 426h1v60h-1zM749 424h1v29h-1zM753 442h1v23h-1zM757 451h1v17h-1zM761 451h1v17h-1zM765 434h1v26h-1zM769 400h1v42h-1zM773 394h1v33h-1zM777 411h1v12h-1zM781 401h1v6h-1zM785 403h1v20h-1zM789 397h1v29h-1zM793 402h1v20h-1zM797 396h1v27h-1zM801 399h1v13h-1zM805 401h1v11h-1zM809 404h1v10h-1zM813 406h1v39h-1zM817 435h1v27h-1zM821 392h1v67h-1zM825 401h1v15h-1zM829 406h1v9h-1zM833 390h1v20h-1zM837 399h1v16h-1zM841 399h1v27h-1zM845 402h1v28h-1zM849 400h1v16h-1zM853 406h1v7h-1zM857 405h1v18h-1zM861 407h1v30h-1zM865 389h1v40h-1zM869 337h1v67h-1zM873 348h1v7h-1zM877 346h1v10h-1zM881 345h1v13h-1zM885 347h1v26h-1zM889 346h1v27h-1zM893 346h1v75h-1zM897 403h1v22h-1zM901 432h1v15h-1zM905 383h1v63h-1zM909 367h1v58h-1zM913 388h1v21h-1zM917 365h1v41h-1zM921 378h1v18h-1zM925 386h1v13h-1zM929 396h1v29h-1zM933 396h1v29h-1zM937 377h1v25h-1zM941 352h1v38h-1zM945 366h1v13h-1zM949 372h1v9h-1zM953 371h1v14h-1zM957 369h1v27h-1zM961 392h1v59h-1zM965 386h1v42h-1zM969 388h1v10h-1zM973 388h1v13h-1zM977 390h1v27h-1zM981 397h1v28h-1zM985 380h1v27h-1zM989 371h1v26h-1zM993 371h1v18h-1zM997 381h1v9h-1zM1001 382h1v13h-1zM1005 383h1v23h-1zM1009 383h1v23h-1zM1013 383h1v31h-1zM1017 401h1v20h-1zM1021 418h1v7h-1zM1025 414h1v18h-1zM1029 408h1v24h-1zM1033 428h1v30h-1zM1037 449h1v28h-1zM1041 465h1v17h-1zM1045 466h1v9h-1zM1049 462h1v19h-1zM1053 474h1v69h-1zM1057 464h1v66h-1zM1061 465h1v39h-1zM1065 462h1v17h-1zM1069 467h1v12h-1zM1073 453h1v25h-1zM1077 415h1v48h-1zM1081 382h1v51h-1zM1085 387h1v30h-1zM1089 368h1v30h-1zM1093 351h1v26h-1zM1097 336h1v27h-1zM1101 343h1v34h-1zM1105 278h1v73h-1zM1109 262h1v35h-1zM1113 273h1v17h-1zM1117 272h1v11h-1zM1121 267h1v14h-1zM1125 264h1v31h-1zM1129 271h1v28h-1zM1133 284h1v22h-1zM1137 300h1v10h-1zM1141 301h1v6h-1zM1145 301h1v13h-1zM1149 305h1v27h-1zM1153 242h1v69h-1zM1157 242h1v36h-1zM1161 242h1v22h-1zM1165 240h1v17h-1zM1169 233h1v16h-1zM1173 226h1v43h-1zM1177 231h1v40h-1zM1181 229h1v21h-1zM1185 231h1v11h-1zM1189 220h1v18h-1zM1193 214h1v19h-1zM1197 202h1v23h-1zM1201 202h1v26h-1zM1205 217h1v20h-1zM1209 219h1v18h-1zM1213 206h1v22h-1zM1217 200h1v16h-1zM1221 202h1v23h-1zM1225 214h1v23h-1zM1229 190h1v74h-1zM1233 187h1v19h-1zM1237 196h1v12h-1zM1241 194h1v12h-1zM1245 161h1v37h-1zM1249 126h1v53h-1zM1253 122h1v33h-1zM1257 118h1v17h-1zM1261 124h1v13h-1zM1265 134h1v25h-1zM1269 137h1v22h-1zM1273 148h1v29h-1zM1277 147h1v29h-1zM1281 152h1v18h-1zM1285 147h1v10h-1zM1289 141h1v19h-1zM1293 144h1v26h-1zM1297 150h1v18h-1zM1301 108h1v54h-1zM1305 97h1v21h-1zM1309 107h1v8h-1zM1313 106h1v11h-1zM1317 107h1v15h-1zM1321 117h1v22h-1zM1325 109h1v27h-1zM1329 84h1v38h-1zM1333 95h1v16h-1z"/><path fill="#000" d="M12 81h3v5h-3zM16 85h3v3h-3zM20 86h3v2h-3zM24 86h3v4h-3zM32 84h3v6h-3zM40 83h3v2h-3zM48 80h3v2h-3zM52 79h3v2h-3zM60 67h3v7h-3zM64 73h3v8h-3zM68 80h3v4h-3zM84 61h3v2h-3zM88 61h3v2h-3zM92 61h3v16h-3zM96 76h3v17h-3zM108 82h3v1h-3zM112 82h3v7h-3zM124 73h3v14h-3zM128 86h3v4h-3zM132 89h3v5h-3zM136 93h3v13h-3zM152 73h3v3h-3zM160 68h3v4h-3zM164 71h3v6h-3zM168 76h3v5h-3zM172 80h3v9h-3zM176 88h3v5h-3zM188 79h3v11h-3zM192 89h3v6h-3zM196 94h3v19h-3zM200 112h3v3h-3zM204 114h3v2h-3zM212 112h3v21h-3zM216 131h3v30h-3zM224 146h3v8h-3zM228 151h3v6h-3zM232 154h3v3h-3zM236 154h3v3h-3zM244 148h3v2h-3zM248 147h3v5h-3zM252 150h3v9h-3zM256 158h3v13h-3zM268 137h3v3h-3zM276 133h3v2h-3zM284 122h3v5h-3zM292 119h3v15h-3zM296 133h3v1h-3zM308 120h3v20h-3zM312 138h3v7h-3zM320 138h3v1h-3zM324 138h3v2h-3zM332 136h3v9h-3zM340 133h3v12h-3zM348 136h3v3h-3zM352 138h3v8h-3zM356 145h3v2h-3zM368 113h3v3h-3zM372 113h3v3h-3zM376 114h3v10h-3zM380 122h3v5h-3zM392 97h3v4h-3zM396 99h3v4h-3zM400 101h3v9h-3zM404 108h3v11h-3zM412 113h3v25h-3zM416 136h3v2h-3zM420 143h3v5h-3zM424 146h3v14h-3zM428 158h3v10h-3zM432 166h3v22h-3zM436 186h3v25h-3zM440 209h3v14h-3zM444 220h3v3h-3zM448 220h3v48h-3zM456 263h3v4h-3zM460 264h3v8h-3zM468 270h3v2h-3zM472 271h3v4h-3zM488 235h3v22h-3zM492 255h3v4h-3zM500 247h3v16h-3zM504 262h3v11h-3zM508 272h3v24h-3zM512 296h3v61h-3zM516 354h3v7h-3zM520 359h3v44h-3zM528 388h3v8h-3zM532 394h3v11h-3zM540 396h3v5h-3zM544 398h3v40h-3zM548 437h3v23h-3zM556 422h3v3h-3zM560 424h3v5h-3zM564 428h3v29h-3zM580 385h3v24h-3zM588 394h3v11h-3zM592 403h3v24h-3zM600 410h3v37h-3zM604 445h3v10h-3zM612 424h3v10h-3zM620 411h3v6h-3zM624 415h3v25h-3zM628 438h3v1h-3zM632 438h3v3h-3zM636 440h3v5h-3zM644 441h3v7h-3zM648 447h3v42h-3zM652 489h3v25h-3zM660 521h3v22h-3zM672 511h3v14h-3zM680 514h3v3h-3zM688 511h3v2h-3zM692 512h3v19h-3zM704 441h3v2h-3zM708 442h3v4h-3zM712 443h3v21h-3zM720 453h3v34h-3zM724 486h3v7h-3zM732 487h3v2h-3zM736 487h3v6h-3zM748 436h3v13h-3zM752 448h3v5h-3zM756 452h3v10h-3zM772 408h3v5h-3zM776 412h3v5h-3zM780 402h3v2h-3zM784 403h3v7h-3zM788 409h3v10h-3zM804 404h3v8h-3zM812 407h3v31h-3zM816 436h3v13h-3zM824 410h3v2h-3zM828 410h3v2h-3zM836 400h3v10h-3zM840 408h3v7h-3zM848 406h3v2h-3zM852 406h3v2h-3zM856 407h3v14h-3zM872 352h3v2h-3zM880 350h3v6h-3zM884 354h3v15h-3zM892 347h3v74h-3zM900 440h3v7h-3zM924 387h3v12h-3zM928 396h3v29h-3zM944 372h3v6h-3zM948 376h3v5h-3zM952 378h3v2h-3zM956 378h3v16h-3zM960 393h3v28h-3zM968 389h3v2h-3zM972 390h3v3h-3zM976 391h3v22h-3zM992 378h3v10h-3zM996 386h3v4h-3zM1000 387h3v5h-3zM1008 388h3v8h-3zM1012 394h3v15h-3zM1016 408h3v10h-3zM1020 420h3v2h-3zM1024 419h3v3h-3zM1028 419h3v12h-3zM1032 429h3v24h-3zM1036 449h3v20h-3zM1040 468h3v2h-3zM1044 467h3v2h-3zM1048 468h3v11h-3zM1052 480h3v50h-3zM1068 467h3v9h-3zM1084 394h3v3h-3zM1100 344h3v2h-3zM1112 274h3v2h-3zM1116 273h3v2h-3zM1120 273h3v2h-3zM1124 274h3v13h-3zM1128 286h3v2h-3zM1132 286h3v19h-3zM1144 302h3v12h-3zM1148 310h3v2h-3zM1160 245h3v9h-3zM1172 243h3v22h-3zM1200 204h3v21h-3zM1204 223h3v8h-3zM1220 205h3v18h-3zM1224 222h3v11h-3zM1232 198h3v2h-3zM1236 198h3v4h-3zM1260 127h3v10h-3zM1264 135h3v10h-3zM1268 144h3v6h-3zM1272 149h3v18h-3zM1276 165h3v2h-3zM1288 150h3v8h-3zM1292 156h3v12h-3zM1308 108h3v4h-3zM1312 110h3v6h-3zM1316 114h3v8h-3zM1320 120h3v2h-3zM1324 120h3v2h-3zM1332 98h3v10h-3z"/><path fill="#000" d="M0 93h3v15h-3zM4 89h3v5h-3zM8 81h3v9h-3zM28 84h3v6h-3zM36 84h3v6h-3zM44 81h3v3h-3zM56 67h3v13h-3zM72 73h3v11h-3zM76 69h3v5h-3zM80 61h3v9h-3zM100 89h3v4h-3zM104 82h3v8h-3zM116 81h3v8h-3zM120 73h3v9h-3zM140 93h3v13h-3zM144 80h3v14h-3zM148 73h3v8h-3zM156 68h3v8h-3zM180 90h3v3h-3zM184 79h3v12h-3zM208 112h3v6h-3zM220 148h3v13h-3zM240 150h3v7h-3zM260 151h3v20h-3zM264 137h3v16h-3zM272 134h3v5h-3zM280 122h3v11h-3zM288 120h3v6h-3zM300 123h3v6h-3zM304 120h3v4h-3zM316 138h3v8h-3zM328 137h3v4h-3zM336 133h3v12h-3zM344 136h3v8h-3zM360 116h3v31h-3zM364 114h3v3h-3zM384 117h3v10h-3zM388 97h3v21h-3zM408 113h3v7h-3zM452 263h3v4h-3zM464 270h3v3h-3zM476 269h3v6h-3zM480 261h3v8h-3zM484 236h3v27h-3zM496 247h3v11h-3zM524 387h3v16h-3zM536 394h3v11h-3zM552 422h3v38h-3zM568 397h3v60h-3zM572 393h3v5h-3zM576 385h3v10h-3zM584 393h3v15h-3zM596 410h3v17h-3zM608 424h3v31h-3zM616 411h3v21h-3zM640 441h3v4h-3zM656 512h3v3h-3zM664 529h3v13h-3zM668 512h3v19h-3zM676 514h3v10h-3zM684 511h3v5h-3zM696 517h3v15h-3zM700 442h3v77h-3zM716 453h3v11h-3zM728 487h3v6h-3zM740 457h3v36h-3zM744 436h3v22h-3zM760 454h3v7h-3zM764 440h3v15h-3zM768 408h3v34h-3zM792 413h3v6h-3zM796 410h3v4h-3zM800 405h3v7h-3zM808 408h3v4h-3zM820 411h3v38h-3zM832 399h3v11h-3zM844 407h3v7h-3zM860 414h3v7h-3zM864 399h3v16h-3zM868 353h3v48h-3zM876 350h3v4h-3zM888 347h3v21h-3zM896 404h3v17h-3zM904 402h3v44h-3zM908 396h3v8h-3zM912 392h3v5h-3zM916 390h3v4h-3zM920 388h3v4h-3zM932 396h3v29h-3zM936 385h3v12h-3zM940 372h3v15h-3zM964 389h3v32h-3zM980 405h3v8h-3zM984 380h3v26h-3zM988 378h3v4h-3zM1004 388h3v4h-3zM1056 496h3v34h-3zM1060 477h3v20h-3zM1064 468h3v10h-3zM1072 459h3v17h-3zM1076 420h3v41h-3zM1080 395h3v26h-3zM1088 370h3v27h-3zM1092 361h3v11h-3zM1096 345h3v18h-3zM1104 292h3v55h-3zM1108 274h3v21h-3zM1136 301h3v5h-3zM1140 302h3v4h-3zM1152 260h3v51h-3zM1156 245h3v16h-3zM1164 244h3v10h-3zM1168 243h3v3h-3zM1176 244h3v21h-3zM1180 239h3v6h-3zM1184 231h3v10h-3zM1188 221h3v12h-3zM1192 215h3v10h-3zM1196 203h3v14h-3zM1208 220h3v10h-3zM1212 208h3v13h-3zM1216 205h3v4h-3zM1228 198h3v35h-3zM1240 195h3v6h-3zM1244 170h3v27h-3zM1248 146h3v25h-3zM1252 127h3v19h-3zM1256 121h3v8h-3zM1280 152h3v14h-3zM1284 150h3v4h-3zM1296 154h3v13h-3zM1300 114h3v40h-3zM1304 107h3v9h-3zM1328 98h3v24h-3z"/><path fill="#fff" d="M1 94h1v13h-1zM5 90h1v3h-1zM9 82h1v7h-1zM29 85h1v4h-1zM37 85h1v4h-1zM45 82h1v1h-1zM57 68h1v11h-1zM73 74h1v9h-1zM77 70h1v3h-1zM81 62h1v7h-1zM101 90h1v2h-1zM105 83h1v6h-1zM117 82h1v6h-1zM121 74h1v7h-1zM141 94h1v11h-1zM145 81h1v12h-1zM149 74h1v6h-1zM157 69h1v6h-1zM181 91h1v1h-1zM185 80h1v10h-1zM209 113h1v4h-1zM221 149h1v11h-1zM241 151h1v5h-1zM261 152h1v18h-1zM265 138h1v14h-1zM273 135h1v3h-1zM281 123h1v9h-1zM289 121h1v4h-1zM301 124h1v4h-1zM305 121h1v2h-1zM317 139h1v6h-1zM329 138h1v2h-1zM337 134h1v10h-1zM345 137h1v6h-1zM361 117h1v29h-1zM365 115h1v1h-1zM385 118h1v8h-1zM389 98h1v19h-1zM409 114h1v5h-1zM453 264h1v2h-1zM465 271h1v1h-1zM477 270h1v4h-1zM481 262h1v6h-1zM485 237h1v25h-1zM497 248h1v9h-1zM525 388h1v14h-1zM537 395h1v9h-1zM553 423h1v36h-1zM569 398h1v58h-1zM573 394h1v3h-1zM577 386h1v8h-1zM585 394h1v13h-1zM597 411h1v15h-1zM609 425h1v29h-1zM617 412h1v19h-1zM641 442h1v2h-1zM657 513h1v1h-1zM665 530h1v11h-1zM669 513h1v17h-1zM677 515h1v8h-1zM685 512h1v3h-1zM697 518h1v13h-1zM701 443h1v75h-1zM717 454h1v9h-1zM729 488h1v4h-1zM741 458h1v34h-1zM745 437h1v20h-1zM761 455h1v5h-1zM765 441h1v13h-1zM769 409h1v32h-1zM793 414h1v4h-1zM797 411h1v2h-1zM801 406h1v5h-1zM809 409h1v2h-1zM821 412h1v36h-1zM833 400h1v9h-1zM845 408h1v5h-1zM861 415h1v5h-1zM865 400h1v14h-1zM869 354h1v46h-1zM877 351h1v2h-1zM889 348h1v19h-1zM897 405h1v15h-1zM905 403h1v42h-1zM909 397h1v6h-1zM913 393h1v3h-1zM917 391h1v2h-1zM921 389h1v2h-1zM933 397h1v27h-1zM937 386h1v10h-1zM941 373h1v13h-1zM965 390h1v30h-1zM981 406h1v6h-1zM985 381h1v24h-1zM989 379h1v2h-1zM1005 389h1v2h-1zM1057 497h1v32h-1zM1061 478h1v18h-1zM1065 469h1v8h-1zM1073 460h1v15h-1zM1077 421h1v39h-1zM1081 396h1v24h-1zM1089 371h1v25h-1zM1093 362h1v9h-1zM1097 346h1v16h-1zM1105 293h1v53h-1zM1109 275h1v19h-1zM1137 302h1v3h-1zM1141 303h1v2h-1zM1153 261h1v49h-1zM1157 246h1v14h-1zM1165 245h1v8h-1zM1169 244h1v1h-1zM1177 245h1v19h-1zM1181 240h1v4h-1zM1185 232h1v8h-1zM1189 222h1v10h-1zM1193 216h1v8h-1zM1197 204h1v12h-1zM1209 221h1v8h-1zM1213 209h1v11h-1zM1217 206h1v2h-1zM1229 199h1v33h-1zM1241 196h1v4h-1zM1245 171h1v25h-1zM1249 147h1v23h-1zM1253 128h1v17h-1zM1257 122h1v6h-1zM1281 153h1v12h-1zM1285 151h1v2h-1zM1297 155h1v11h-1zM1301 115h1v38h-1zM1305 108h1v7h-1zM1329 99h1v22h-1z"/>
<rect x="1249" y="121" width="87" height="12" fill="#00ff00"/>
<path d="M1326 27h9.5l-4.75 5z" fill="#c0c0c0" shape-rendering="geometricPrecision"/>
</g>
<rect x="1619" y="61" width="6" height="6" fill="#ff0000"/><rect x="1621" y="63" width="2" height="2" fill="#fff"/>
<rect x="1619" y="78" width="6" height="6" fill="#ff4500"/><rect x="1621" y="80" width="2" height="2" fill="#fff"/>
<rect x="1619" y="125" width="6" height="6" fill="#32cd32"/><rect x="1621" y="127" width="2" height="2" fill="#fff"/>
<rect x="1619" y="149" width="6" height="6" fill="#0000ff"/><rect x="1621" y="151" width="2" height="2" fill="#fff"/>
<rect x="1619" y="178" width="6" height="6" fill="#0000ff"/><rect x="1621" y="180" width="2" height="2" fill="#fff"/>
<g clip-path="url(#cd)">
<path fill="#c0c0c0" d="M1 649h1v28h-1zM5 649h1v30h-1zM9 649h1v30h-1zM13 649h1v31h-1zM17 649h1v31h-1zM21 649h1v29h-1zM25 649h1v28h-1zM29 649h1v28h-1zM33 649h1v27h-1zM37 649h1v26h-1zM41 649h1v25h-1zM45 649h1v23h-1zM49 649h1v21h-1zM53 649h1v18h-1zM57 649h1v15h-1zM61 649h1v14h-1zM65 649h1v13h-1zM69 649h1v11h-1zM73 649h1v10h-1zM77 649h1v8h-1zM81 649h1v5h-1zM85 649h1v4h-1zM89 649h1v2h-1zM93 649h1v3h-1zM97 649h1v5h-1zM101 649h1v6h-1zM105 649h1v6h-1zM109 649h1v7h-1zM113 649h1v8h-1zM117 649h1v7h-1zM121 649h1v6h-1zM125 649h1v5h-1zM129 649h1v7h-1zM133 649h1v8h-1zM137 649h1v11h-1zM141 649h1v11h-1zM145 649h1v8h-1zM149 649h1v6h-1zM153 649h1v4h-1zM157 649h1v2h-1zM173 649h1v1h-1zM177 649h1v1h-1zM181 649h1v1h-1zM185 649h1v1h-1zM193 649h1v5h-1zM197 649h1v8h-1zM201 649h1v12h-1zM205 649h1v14h-1zM209 649h1v15h-1zM213 649h1v18h-1zM217 649h1v25h-1zM221 649h1v28h-1zM225 649h1v31h-1zM229 649h1v33h-1zM233 649h1v35h-1zM237 649h1v35h-1zM241 649h1v35h-1zM245 649h1v33h-1zM249 649h1v33h-1zM253 649h1v33h-1zM257 649h1v33h-1zM261 649h1v32h-1zM265 649h1v27h-1zM269 649h1v24h-1zM273 649h1v20h-1zM277 649h1v17h-1zM281 649h1v13h-1zM285 649h1v10h-1zM289 649h1v7h-1zM293 649h1v6h-1zM297 649h1v3h-1zM301 649h1v3h-1zM305 649h1v2h-1zM313 649h1v2h-1zM317 649h1v5h-1zM321 649h1v5h-1zM325 649h1v5h-1zM329 649h1v4h-1zM333 649h1v5h-1zM337 649h1v5h-1zM341 649h1v5h-1zM345 649h1v5h-1zM349 649h1v5h-1zM353 649h1v5h-1zM357 649h1v3h-1zM365 648h1v2h-1zM369 646h1v4h-1zM373 644h1v6h-1zM377 644h1v6h-1zM381 644h1v6h-1zM385 643h1v7h-1zM389 640h1v10h-1zM393 637h1v13h-1zM397 636h1v14h-1zM401 636h1v14h-1zM405 637h1v13h-1zM409 639h1v11h-1zM413 642h1v8h-1zM417 646h1v4h-1zM425 649h1v5h-1zM429 649h1v10h-1zM433 649h1v16h-1zM437 649h1v25h-1zM441 649h1v33h-1zM445 649h1v38h-1zM449 649h1v49h-1zM453 649h1v56h-1zM457 649h1v62h-1zM461 649h1v66h-1zM465 649h1v69h-1zM469 649h1v70h-1zM473 649h1v71h-1zM477 649h1v70h-1zM481 649h1v67h-1zM485 649h1v60h-1zM489 649h1v57h-1zM493 649h1v55h-1zM497 649h1v51h-1zM501 649h1v49h-1zM505 649h1v48h-1zM509 649h1v51h-1zM513 649h1v61h-1zM517 649h1v68h-1zM521 649h1v80h-1zM525 649h1v85h-1zM529 649h1v90h-1zM533 649h1v95h-1zM537 649h1v95h-1zM541 649h1v95h-1zM545 649h1v100h-1zM549 649h1v104h-1zM553 649h1v102h-1zM557 649h1v100h-1zM561 649h1v98h-1zM565 649h1v99h-1zM569 649h1v89h-1zM573 649h1v80h-1zM577 649h1v71h-1zM581 649h1v68h-1zM585 649h1v62h-1zM589 649h1v57h-1zM593 649h1v56h-1zM597 649h1v53h-1zM601 649h1v57h-1zM605 649h1v56h-1zM609 649h1v53h-1zM613 649h1v51h-1zM617 649h1v46h-1zM621 649h1v42h-1zM625 649h1v41h-1zM629 649h1v41h-1zM633 649h1v40h-1zM637 649h1v40h-1zM641 649h1v38h-1zM645 649h1v38h-1zM649 649h1v41h-1zM653 649h1v50h-1zM657 649h1v55h-1zM661 649h1v62h-1zM665 649h1v65h-1zM669 649h1v65h-1zM673 649h1v65h-1zM677 649h1v63h-1zM681 649h1v61h-1zM685 649h1v59h-1zM689 649h1v55h-1zM693 649h1v55h-1zM697 649h1v52h-1zM701 649h1v40h-1zM705 649h1v29h-1zM709 649h1v19h-1zM713 649h1v14h-1zM717 649h1v10h-1zM721 649h1v10h-1zM725 649h1v12h-1zM729 649h1v12h-1zM733 649h1v12h-1zM737 649h1v9h-1zM749 648h1v2h-1zM753 646h1v4h-1zM757 645h1v5h-1zM761 644h1v6h-1zM765 641h1v9h-1zM769 634h1v16h-1zM773 630h1v20h-1zM777 627h1v23h-1zM781 623h1v27h-1zM785 621h1v29h-1zM789 621h1v29h-1zM793 621h1v29h-1zM797 621h1v29h-1zM801 620h1v30h-1zM805 622h1v28h-1zM809 622h1v28h-1zM813 626h1v24h-1zM817 632h1v18h-1zM821 631h1v19h-1zM825 631h1v19h-1zM829 631h1v19h-1zM833 629h1v21h-1zM837 630h1v20h-1zM841 631h1v19h-1zM845 631h1v19h-1zM849 632h1v18h-1zM853 632h1v18h-1zM857 635h1v15h-1zM861 636h1v14h-1zM865 635h1v15h-1zM869 628h1v22h-1zM873 622h1v28h-1zM877 618h1v32h-1zM881 615h1v35h-1zM885 616h1v34h-1zM889 614h1v36h-1zM893 623h1v27h-1zM897 628h1v22h-1zM901 638h1v12h-1zM905 640h1v10h-1zM909 641h1v9h-1zM913 641h1v9h-1zM917 641h1v9h-1zM921 641h1v9h-1zM925 642h1v8h-1zM929 647h1v3h-1zM933 646h1v4h-1zM937 645h1v5h-1zM941 642h1v8h-1zM945 640h1v10h-1zM949 639h1v11h-1zM953 639h1v11h-1zM957 640h1v10h-1zM961 646h1v4h-1zM965 645h1v5h-1zM969 646h1v4h-1zM973 646h1v4h-1zM977 649h1v1h-1zM985 648h1v2h-1zM989 645h1v5h-1zM993 646h1v4h-1zM997 646h1v4h-1zM1001 646h1v4h-1zM1005 646h1v4h-1zM1009 646h1v4h-1zM1017 649h1v3h-1zM1021 649h1v6h-1zM1025 649h1v8h-1zM1029 649h1v11h-1zM1033 649h1v17h-1zM1037 649h1v23h-1zM1041 649h1v28h-1zM1045 649h1v32h-1zM1049 649h1v36h-1zM1053 649h1v46h-1zM1057 649h1v48h-1zM1061 649h1v46h-1zM1065 649h1v43h-1zM1069 649h1v38h-1zM1073 649h1v34h-1zM1077 649h1v28h-1zM1081 649h1v17h-1zM1085 649h1v8h-1zM1089 647h1v3h-1zM1093 638h1v12h-1zM1097 628h1v22h-1zM1101 621h1v29h-1zM1105 608h1v42h-1zM1109 595h1v55h-1zM1113 586h1v64h-1zM1117 579h1v71h-1zM1121 575h1v75h-1zM1125 575h1v75h-1zM1129 575h1v75h-1zM1133 579h1v71h-1zM1137 585h1v65h-1zM1141 590h1v60h-1zM1145 595h1v55h-1zM1149 591h1v59h-1zM1153 587h1v63h-1zM1157 584h1v66h-1zM1161 584h1v66h-1zM1165 585h1v65h-1zM1169 586h1v64h-1zM1173 586h1v64h-1zM1177 587h1v63h-1zM1181 587h1v63h-1zM1185 587h1v63h-1zM1189 586h1v64h-1zM1193 587h1v63h-1zM1197 586h1v64h-1zM1201 585h1v65h-1zM1205 587h1v63h-1zM1209 590h1v60h-1zM1213 593h1v57h-1zM1217 593h1v57h-1zM1221 597h1v53h-1zM1225 601h1v49h-1zM1229 601h1v49h-1zM1233 601h1v49h-1zM1237 602h1v48h-1zM1241 603h1v47h-1zM1245 600h1v50h-1zM1249 595h1v55h-1zM1253 590h1v60h-1zM1257 585h1v65h-1zM1261 583h1v67h-1zM1265 584h1v66h-1zM1269 587h1v63h-1zM1273 592h1v58h-1zM1277 596h1v54h-1zM1281 599h1v51h-1zM1285 601h1v49h-1zM1289 604h1v46h-1zM1293 608h1v42h-1zM1297 610h1v40h-1zM1301 606h1v44h-1zM1305 603h1v47h-1zM1309 602h1v48h-1zM1313 601h1v49h-1zM1317 604h1v46h-1zM1321 606h1v44h-1zM1325 607h1v43h-1zM1329 606h1v44h-1zM1333 606h1v44h-1z"/>
<polyline fill="none" stroke="#ff0000" stroke-width="1" points="-2.5,652.8 1.5,656.2 5.5,659.5 9.5,663.1 13.5,667.0 17.5,670.8 21.5,674.4 25.5,677.0 29.5,678.9 33.5,679.0 37.5,678.8 41.5,678.3 45.5,677.5 49.5,676.3 53.5,675.0 57.5,673.5 61.5,671.9 65.5,670.2 69.5,668.5 73.5,666.6 77.5,664.8 81.5,662.9 85.5,661.0 89.5,659.0 93.5,657.4 97.5,656.3 101.5,655.5 105.5,654.9 109.5,654.6 113.5,654.5 117.5,654.6 121.5,655.0 125.5,655.4 129.5,655.9 133.5,656.3 137.5,656.9 141.5,657.4 145.5,657.6 149.5,657.4 153.5,657.0 157.5,656.5 161.5,655.9 165.5,655.2 169.5,654.2 173.5,652.9 177.5,651.6 181.5,650.7 185.5,650.1 189.5,649.8 193.5,650.1 197.5,651.1 201.5,652.5 205.5,654.1 209.5,656.0 213.5,658.3 217.5,661.1 221.5,664.0 225.5,667.3 229.5,670.4 233.5,673.3 237.5,675.8 241.5,678.1 245.5,680.2 249.5,681.8 253.5,682.6 257.5,683.3 261.5,683.4 265.5,682.8 269.5,681.7 273.5,680.1 277.5,678.1 281.5,675.9 285.5,673.4 289.5,670.5 293.5,667.5 297.5,664.3 301.5,661.6 305.5,658.9 309.5,656.5 313.5,654.7 317.5,653.6 321.5,653.0 325.5,652.8 329.5,652.6 333.5,652.8 337.5,653.0 341.5,653.4 345.5,653.9 349.5,654.3 353.5,654.3 357.5,654.1 361.5,653.5 365.5,652.9 369.5,651.9 373.5,650.7 377.5,649.5 381.5,648.5 385.5,647.2 389.5,645.6 393.5,643.9 397.5,642.4 401.5,641.0 405.5,640.0 409.5,639.4 413.5,639.2 417.5,639.4 421.5,640.1 425.5,641.6 429.5,644.0 433.5,647.2 437.5,651.7 441.5,657.2 445.5,662.8 449.5,669.0 453.5,675.6 457.5,682.4 461.5,689.2 465.5,695.7 469.5,701.7 473.5,706.8 477.5,710.9 481.5,714.1 485.5,715.4 489.5,715.5 493.5,714.8 497.5,713.1 501.5,710.9 505.5,708.5 509.5,706.3 513.5,705.2 517.5,705.3 521.5,707.5 525.5,710.7 529.5,714.6 533.5,719.4 537.5,724.5 541.5,729.6 545.5,735.1 549.5,740.0 553.5,743.8 557.5,746.1 561.5,747.5 565.5,748.5 569.5,747.9 573.5,746.4 577.5,743.8 581.5,740.2 585.5,735.5 589.5,730.4 593.5,725.5 597.5,720.5 601.5,715.9 605.5,712.2 609.5,709.1 613.5,706.8 617.5,704.4 621.5,702.2 625.5,700.5 629.5,698.8 633.5,697.3 637.5,695.4 641.5,693.4 645.5,691.7 649.5,690.6 653.5,691.1 657.5,692.5 661.5,694.7 665.5,697.4 669.5,700.2 673.5,703.0 677.5,705.8 681.5,708.4 685.5,710.4 689.5,711.0 693.5,711.1 697.5,710.0 701.5,707.2 705.5,703.2 709.5,698.2 713.5,692.7 717.5,687.1 721.5,681.7 725.5,676.9 729.5,672.1 733.5,667.6 737.5,664.2 741.5,661.1 745.5,658.9 749.5,657.0 753.5,655.4 757.5,653.7 761.5,651.7 765.5,649.2 769.5,646.1 773.5,643.1 777.5,640.6 781.5,637.6 785.5,634.6 789.5,631.8 793.5,629.2 797.5,626.6 801.5,624.3 805.5,623.0 809.5,622.2 813.5,622.1 817.5,623.1 821.5,624.2 825.5,625.3 829.5,626.4 833.5,627.2 837.5,628.3 841.5,629.3 845.5,630.3 849.5,631.0 853.5,631.0 857.5,631.4 861.5,631.9 865.5,632.3 869.5,632.3 873.5,631.4 877.5,629.9 881.5,628.1 885.5,626.3 889.5,624.3 893.5,623.0 897.5,622.1 901.5,622.4 905.5,623.8 909.5,625.9 913.5,628.5 917.5,631.4 921.5,634.2 925.5,637.3 929.5,640.0 933.5,642.0 937.5,642.8 941.5,643.1 945.5,642.9 949.5,642.7 953.5,642.4 957.5,642.3 961.5,642.7 965.5,642.5 969.5,642.5 973.5,642.7 977.5,643.4 981.5,644.4 985.5,645.3 989.5,646.0 993.5,646.7 997.5,646.7 1001.5,646.8 1005.5,646.8 1009.5,646.8 1013.5,646.8 1017.5,647.2 1021.5,647.9 1025.5,649.2 1029.5,650.8 1033.5,653.3 1037.5,656.4 1041.5,660.2 1045.5,664.0 1049.5,668.0 1053.5,672.8 1057.5,677.4 1061.5,681.7 1065.5,685.3 1069.5,687.6 1073.5,688.9 1077.5,688.9 1081.5,687.3 1085.5,684.2 1089.5,678.9 1093.5,672.4 1097.5,665.0 1101.5,656.7 1105.5,647.3 1109.5,637.6 1113.5,627.5 1117.5,617.8 1121.5,608.8 1125.5,600.8 1129.5,593.7 1133.5,588.3 1137.5,584.3 1141.5,582.3 1145.5,582.2 1149.5,582.8 1153.5,583.7 1157.5,584.7 1161.5,585.7 1165.5,586.7 1169.5,587.5 1173.5,587.6 1177.5,587.3 1181.5,586.5 1185.5,586.0 1189.5,585.9 1193.5,586.2 1197.5,586.4 1201.5,586.4 1205.5,586.5 1209.5,587.0 1213.5,587.6 1217.5,588.3 1221.5,589.4 1225.5,591.0 1229.5,592.6 1233.5,594.3 1237.5,596.2 1241.5,598.0 1245.5,599.1 1249.5,599.3 1253.5,599.0 1257.5,597.6 1261.5,595.6 1265.5,593.7 1269.5,592.2 1273.5,591.1 1277.5,590.3 1281.5,590.2 1285.5,590.8 1289.5,592.4 1293.5,594.9 1297.5,597.9 1301.5,600.4 1305.5,602.2 1309.5,603.3 1313.5,603.9 1317.5,604.4 1321.5,605.0 1325.5,605.3 1329.5,605.1 1333.5,604.6" stroke-dasharray="3,3"/>
</g>
<g clip-path="url(#cr)">
<line x1="0" y1="799.5" x2="1625" y2="799.5" stroke="#c0c0c0" stroke-dasharray="3,3"/>
<line x1="0" y1="846.5" x2="1625" y2="846.5" stroke="#c0c0c0" stroke-dasharray="3,3"/>
<line x1="0" y1="902.5" x2="1625" y2="902.5" stroke="#c0c0c0" stroke-dasharray="3,3"/>
<polyline fill="none" stroke="#1e90ff" stroke-width="1" points="-2.5,880.6 1.5,880.4 5.5,876.0 9.5,869.4 13.5,871.4 17.5,871.4 21.5,871.4 25.5,872.4 29.5,867.6 33.5,870.3 37.5,864.6 41.5,863.2 45.5,861.6 49.5,860.4 53.5,859.0 57.5,845.2 61.5,851.2 65.5,858.0 69.5,859.8 73.5,849.6 77.5,845.5 81.5,837.4 85.5,839.2 89.5,838.3 93.5,853.2 97.5,865.2 101.5,862.2 105.5,855.3 109.5,855.3 113.5,860.4 117.5,852.6 121.5,844.9 125.5,855.6 129.5,858.0 133.5,861.0 137.5,869.4 141.5,857.4 145.5,846.1 149.5,840.4 153.5,841.3 157.5,837.3 161.5,838.5 165.5,843.7 169.5,848.4 173.5,855.0 177.5,858.0 181.5,855.6 185.5,845.2 189.5,853.8 193.5,862.2 197.5,871.5 201.5,872.4 205.5,872.4 209.5,868.8 213.5,874.8 217.5,890.3 221.5,878.3 225.5,880.4 229.5,881.6 233.5,880.4 237.5,881.3 241.5,874.8 245.5,872.1 249.5,873.0 253.5,877.2 257.5,883.7 261.5,867.0 265.5,853.8 269.5,852.6 273.5,853.2 277.5,849.6 281.5,847.8 285.5,840.1 289.5,842.1 293.5,838.5 297.5,850.2 301.5,849.0 305.5,842.1 309.5,838.9 313.5,851.4 317.5,858.0 321.5,852.6 325.5,852.6 329.5,854.4 333.5,851.4 337.5,857.4 341.5,847.6 345.5,854.4 349.5,849.0 353.5,850.2 357.5,856.2 361.5,832.9 365.5,831.3 369.5,830.5 373.5,830.9 377.5,838.5 381.5,843.3 385.5,834.7 389.5,823.3 393.5,825.1 397.5,827.3 401.5,832.9 405.5,840.7 409.5,840.7 413.5,857.2 417.5,858.6 421.5,864.6 425.5,870.6 429.5,874.8 433.5,882.5 437.5,890.3 441.5,893.3 445.5,892.3 449.5,901.1 453.5,898.3 457.5,899.3 461.5,900.2 465.5,898.3 469.5,899.3 473.5,899.3 477.5,894.5 481.5,886.1 485.5,863.4 489.5,871.2 493.5,872.7 497.5,865.6 501.5,871.2 505.5,876.0 509.5,883.7 513.5,895.1 517.5,896.7 521.5,901.4 525.5,893.5 529.5,894.5 533.5,896.3 537.5,889.5 541.5,890.7 545.5,896.7 549.5,899.0 553.5,879.5 557.5,879.2 561.5,881.3 565.5,885.2 569.5,860.4 573.5,859.2 577.5,856.5 581.5,862.4 585.5,857.4 589.5,861.3 593.5,865.8 597.5,859.6 601.5,868.2 605.5,870.0 609.5,859.2 613.5,861.0 617.5,853.6 621.5,854.8 625.5,861.2 629.5,861.2 633.5,861.2 637.5,863.2 641.5,861.2 645.5,862.8 649.5,873.0 653.5,880.7 657.5,880.4 661.5,886.1 665.5,879.0 669.5,871.8 673.5,874.2 677.5,869.4 681.5,870.3 685.5,866.4 689.5,867.2 693.5,873.2 697.5,865.2 701.5,835.6 705.5,835.6 709.5,836.5 713.5,844.3 717.5,841.9 721.5,852.6 725.5,854.4 729.5,853.6 733.5,853.6 737.5,853.6 741.5,854.4 745.5,840.1 749.5,832.5 753.5,838.3 757.5,840.7 761.5,843.1 765.5,841.3 769.5,837.1 773.5,824.5 777.5,827.5 781.5,828.5 785.5,825.7 789.5,832.9 793.5,831.3 797.5,830.5 801.5,827.8 805.5,832.3 809.5,830.5 813.5,846.1 817.5,853.8 821.5,836.5 825.5,836.5 829.5,835.9 833.5,831.7 837.5,837.7 841.5,840.1 845.5,836.5 849.5,837.3 853.5,837.7 857.5,845.5 861.5,842.5 865.5,834.7 869.5,816.7 873.5,815.3 877.5,815.3 881.5,816.7 885.5,827.3 889.5,820.9 893.5,855.0 897.5,849.3 901.5,862.2 905.5,847.2 909.5,844.5 913.5,843.3 917.5,843.3 921.5,842.1 925.5,846.1 929.5,855.0 933.5,846.1 937.5,841.9 941.5,837.7 945.5,839.5 949.5,840.4 953.5,839.5 957.5,846.1 961.5,857.4 965.5,844.5 969.5,845.2 973.5,846.1 977.5,853.2 981.5,851.0 985.5,841.1 989.5,839.3 993.5,843.4 997.5,844.6 1001.5,845.2 1005.5,844.3 1009.5,847.6 1013.5,854.8 1017.5,859.0 1021.5,861.4 1025.5,860.2 1029.5,865.6 1033.5,872.8 1037.5,880.2 1041.5,880.2 1045.5,879.3 1049.5,883.5 1053.5,895.5 1057.5,874.0 1061.5,863.8 1065.5,859.6 1069.5,862.0 1073.5,854.8 1077.5,840.5 1081.5,830.9 1085.5,830.3 1089.5,823.7 1093.5,821.1 1097.5,817.5 1101.5,817.1 1105.5,806.4 1109.5,803.6 1113.5,803.4 1117.5,803.4 1121.5,803.4 1125.5,812.3 1129.5,812.9 1133.5,822.3 1137.5,822.5 1141.5,823.1 1145.5,828.5 1149.5,828.5 1153.5,812.9 1157.5,808.8 1161.5,813.5 1165.5,811.5 1169.5,810.3 1173.5,824.3 1177.5,818.6 1181.5,817.4 1185.5,815.3 1189.5,813.3 1193.5,811.3 1197.5,809.2 1201.5,820.4 1205.5,824.5 1209.5,821.9 1213.5,816.9 1217.5,816.9 1221.5,825.5 1225.5,834.1 1229.5,821.4 1233.5,822.2 1237.5,823.5 1241.5,821.4 1245.5,814.8 1249.5,808.2 1253.5,804.2 1257.5,801.6 1261.5,811.3 1265.5,816.9 1269.5,820.4 1273.5,830.1 1277.5,830.4 1281.5,826.5 1285.5,824.5 1289.5,828.6 1293.5,835.2 1297.5,829.6 1301.5,816.4 1305.5,814.3 1309.5,816.9 1313.5,818.9 1317.5,823.0 1321.5,831.1 1325.5,826.0 1329.5,818.4 1333.5,823.0" />
</g>
<rect x="0" y="26" width="1626" height="1" fill="#000"/>
<rect x="0" y="561" width="1626" height="1" fill="#000"/>
<rect x="0" y="563" width="1626" height="1" fill="#000"/>
<rect x="0" y="764" width="1626" height="1" fill="#000"/>
<rect x="0" y="766" width="1626" height="1" fill="#000"/>
<rect x="0" y="926" width="1626" height="1" fill="#000"/>
<rect x="1625" y="26" width="1" height="901" fill="#000"/>
<rect x="1626" y="30" width="3" height="1" fill="#000"/>
<text transform="translate(1630.5 34) scale(0.99 1)" font-family="'Liberation Sans', Arial, sans-serif" font-size="9.5" fill="#000" stroke="#000" stroke-width="0.25" >136.705</text>
<rect x="1626" y="63" width="3" height="1" fill="#000"/>
<rect x="1626" y="96" width="3" height="1" fill="#000"/>
<text transform="translate(1630.5 100) scale(0.99 1)" font-family="'Liberation Sans', Arial, sans-serif" font-size="9.5" fill="#000" stroke="#000" stroke-width="0.25" >135.415</text>
<rect x="1626" y="129" width="3" height="1" fill="#000"/>
<rect x="1626" y="162" width="3" height="1" fill="#000"/>
<text transform="translate(1630.5 166) scale(0.99 1)" font-family="'Liberation Sans', Arial, sans-serif" font-size="9.5" fill="#000" stroke="#000" stroke-width="0.25" >134.110</text>
<rect x="1626" y="195" width="3" height="1" fill="#000"/>
<text transform="translate(1630.5 199) scale(0.99 1)" font-family="'Liberation Sans', Arial, sans-serif" font-size="9.5" fill="#000" stroke="#000" stroke-width="0.25" >133.465</text>
<rect x="1626" y="228" width="3" height="1" fill="#000"/>
<text transform="translate(1630.5 232) scale(0.99 1)" font-family="'Liberation Sans', Arial, sans-serif" font-size="9.5" fill="#000" stroke="#000" stroke-width="0.25" >132.820</text>
<rect x="1626" y="261" width="3" height="1" fill="#000"/>
<text transform="translate(1630.5 265) scale(0.99 1)" font-family="'Liberation Sans', Arial, sans-serif" font-size="9.5" fill="#000" stroke="#000" stroke-width="0.25" >132.160</text>
<rect x="1626" y="294" width="3" height="1" fill="#000"/>
<text transform="translate(1630.5 298) scale(0.99 1)" font-family="'Liberation Sans', Arial, sans-serif" font-size="9.5" fill="#000" stroke="#000" stroke-width="0.25" >131.515</text>
<rect x="1626" y="327" width="3" height="1" fill="#000"/>
<text transform="translate(1630.5 331) scale(0.99 1)" font-family="'Liberation Sans', Arial, sans-serif" font-size="9.5" fill="#000" stroke="#000" stroke-width="0.25" >130.870</text>
<rect x="1626" y="360" width="3" height="1" fill="#000"/>
<text transform="translate(1630.5 364) scale(0.99 1)" font-family="'Liberation Sans', Arial, sans-serif" font-size="9.5" fill="#000" stroke="#000" stroke-width="0.25" >130.225</text>
<rect x="1626" y="393" width="3" height="1" fill="#000"/>
<text transform="translate(1630.5 397) scale(0.99 1)" font-family="'Liberation Sans', Arial, sans-serif" font-size="9.5" fill="#000" stroke="#000" stroke-width="0.25" >129.565</text>
<rect x="1626" y="426" width="3" height="1" fill="#000"/>
<text transform="translate(1630.5 430) scale(0.99 1)" font-family="'Liberation Sans', Arial, sans-serif" font-size="9.5" fill="#000" stroke="#000" stroke-width="0.25" >128.920</text>
<rect x="1626" y="459" width="3" height="1" fill="#000"/>
<text transform="translate(1630.5 463) scale(0.99 1)" font-family="'Liberation Sans', Arial, sans-serif" font-size="9.5" fill="#000" stroke="#000" stroke-width="0.25" >128.275</text>
<rect x="1626" y="492" width="3" height="1" fill="#000"/>
<text transform="translate(1630.5 496) scale(0.99 1)" font-family="'Liberation Sans', Arial, sans-serif" font-size="9.5" fill="#000" stroke="#000" stroke-width="0.25" >127.630</text>
<rect x="1626" y="525" width="3" height="1" fill="#000"/>
<text transform="translate(1630.5 529) scale(0.99 1)" font-family="'Liberation Sans', Arial, sans-serif" font-size="9.5" fill="#000" stroke="#000" stroke-width="0.25" >126.970</text>
<rect x="1626" y="558" width="3" height="1" fill="#000"/>
<text transform="translate(1630.5 562) scale(0.99 1)" font-family="'Liberation Sans', Arial, sans-serif" font-size="9.5" fill="#000" stroke="#000" stroke-width="0.25" >126.325</text>
<rect x="1627" y="58" width="42" height="11" fill="#ff0000"/>
<text transform="translate(1630.5 67) scale(0.99 1)" font-family="'Liberation Sans', Arial, sans-serif" font-size="9.5" fill="#fff" stroke="#fff" stroke-width="0.25" >136.034</text>
<rect x="1627" y="75" width="42" height="11" fill="#ff4500"/>
<text transform="translate(1630.5 84) scale(0.99 1)" font-family="'Liberation Sans', Arial, sans-serif" font-size="9.5" fill="#fff" stroke="#fff" stroke-width="0.25" >135.702</text>
<rect x="1627" y="102" width="42" height="11" fill="#000000"/>
<text transform="translate(1630.5 111) scale(0.99 1)" font-family="'Liberation Sans', Arial, sans-serif" font-size="9.5" fill="#fff" stroke="#fff" stroke-width="0.25" >135.201</text>
<rect x="1627" y="122" width="42" height="11" fill="#32cd32"/>
<text transform="translate(1630.5 131) scale(0.99 1)" font-family="'Liberation Sans', Arial, sans-serif" font-size="9.5" fill="#fff" stroke="#fff" stroke-width="0.25" >134.778</text>
<rect x="1627" y="146" width="42" height="11" fill="#0000ff"/>
<text transform="translate(1630.5 155) scale(0.99 1)" font-family="'Liberation Sans', Arial, sans-serif" font-size="9.5" fill="#fff" stroke="#fff" stroke-width="0.25" >134.307</text>
<rect x="1627" y="175" width="42" height="11" fill="#0000ff"/>
<text transform="translate(1630.5 184) scale(0.99 1)" font-family="'Liberation Sans', Arial, sans-serif" font-size="9.5" fill="#fff" stroke="#fff" stroke-width="0.25" >133.746</text>
<rect x="1626" y="565" width="3" height="1" fill="#000"/>
<text transform="translate(1628.5 574) scale(0.99 1)" font-family="'Liberation Sans', Arial, sans-serif" font-size="9.5" fill="#000" stroke="#000" stroke-width="0.25" >0.9163</text>
<rect x="1626" y="649" width="3" height="1" fill="#000"/>
<text transform="translate(1630 652.5) scale(0.99 1)" font-family="'Liberation Sans', Arial, sans-serif" font-size="9.5" fill="#000" stroke="#000" stroke-width="0.25" >0.00</text>
<text transform="translate(1628.5 760.8) scale(0.99 1)" font-family="'Liberation Sans', Arial, sans-serif" font-size="9.5" fill="#000" stroke="#000" stroke-width="0.25" >-1.2446</text>
<rect x="1626" y="767" width="3" height="1" fill="#000"/>
<text transform="translate(1630 776.6) scale(0.99 1)" font-family="'Liberation Sans', Arial, sans-serif" font-size="9.5" fill="#000" stroke="#000" stroke-width="0.25" >100</text>
<rect x="1626" y="799" width="3" height="1" fill="#000"/>
<text transform="translate(1630 802.2) scale(0.99 1)" font-family="'Liberation Sans', Arial, sans-serif" font-size="9.5" fill="#000" stroke="#000" stroke-width="0.25" >80</text>
<rect x="1626" y="846" width="3" height="1" fill="#000"/>
<text transform="translate(1630 849.2) scale(0.99 1)" font-family="'Liberation Sans', Arial, sans-serif" font-size="9.5" fill="#000" stroke="#000" stroke-width="0.25" >50</text>
<rect x="1626" y="902" width="3" height="1" fill="#000"/>
<text transform="translate(1630 905.2) scale(0.99 1)" font-family="'Liberation Sans', Arial, sans-serif" font-size="9.5" fill="#000" stroke="#000" stroke-width="0.25" >15</text>
<text transform="translate(1630 922.8) scale(0.99 1)" font-family="'Liberation Sans', Arial, sans-serif" font-size="9.5" fill="#000" stroke="#000" stroke-width="0.25" >0</text>
<text transform="translate(-3.5 939) scale(0.99 1)" font-family="'Liberation Sans', Arial, sans-serif" font-size="9.5" fill="#000" stroke="#000" stroke-width="0.25" >3 Jul 2019</text>
<rect x="61" y="927" width="1" height="3" fill="#000"/>
<text transform="translate(60.5 939) scale(0.99 1)" font-family="'Liberation Sans', Arial, sans-serif" font-size="9.5" fill="#000" stroke="#000" stroke-width="0.25" >7 Jul 23:00</text>
<rect x="125" y="927" width="1" height="3" fill="#000"/>
<text transform="translate(124.5 939) scale(0.99 1)" font-family="'Liberation Sans', Arial, sans-serif" font-size="9.5" fill="#000" stroke="#000" stroke-width="0.25" >10 Jul 12:00</text>
<rect x="189" y="927" width="1" height="3" fill="#000"/>
<text transform="translate(188.5 939) scale(0.99 1)" font-family="'Liberation Sans', Arial, sans-serif" font-size="9.5" fill="#000" stroke="#000" stroke-width="0.25" >15 Jul 04:00</text>
<rect x="253" y="927" width="1" height="3" fill="#000"/>
<text transform="translate(252.5 939) scale(0.99 1)" font-family="'Liberation Sans', Arial, sans-serif" font-size="9.5" fill="#000" stroke="#000" stroke-width="0.25" >17 Jul 20:00</text>
<rect x="317" y="927" width="1" height="3" fill="#000"/>
<text transform="translate(316.5 939) scale(0.99 1)" font-family="'Liberation Sans', Arial, sans-serif" font-size="9.5" fill="#000" stroke="#000" stroke-width="0.25" >22 Jul 12:00</text>
<rect x="381" y="927" width="1" height="3" fill="#000"/>
<text transform="translate(380.5 939) scale(0.99 1)" font-family="'Liberation Sans', Arial, sans-serif" font-size="9.5" fill="#000" stroke="#000" stroke-width="0.25" >25 Jul 04:00</text>
<rect x="445" y="927" width="1" height="3" fill="#000"/>
<text transform="translate(444.5 939) scale(0.99 1)" font-family="'Liberation Sans', Arial, sans-serif" font-size="9.5" fill="#000" stroke="#000" stroke-width="0.25" >29 Jul 20:00</text>
<rect x="509" y="927" width="1" height="3" fill="#000"/>
<text transform="translate(508.5 939) scale(0.99 1)" font-family="'Liberation Sans', Arial, sans-serif" font-size="9.5" fill="#000" stroke="#000" stroke-width="0.25" >1 Aug 12:00</text>
<rect x="573" y="927" width="1" height="3" fill="#000"/>
<text transform="translate(572.5 939) scale(0.99 1)" font-family="'Liberation Sans', Arial, sans-serif" font-size="9.5" fill="#000" stroke="#000" stroke-width="0.25" >6 Aug 04:00</text>
<rect x="637" y="927" width="1" height="3" fill="#000"/>
<text transform="translate(636.5 939) scale(0.99 1)" font-family="'Liberation Sans', Arial, sans-serif" font-size="9.5" fill="#000" stroke="#000" stroke-width="0.25" >8 Aug 20:00</text>
<rect x="701" y="927" width="1" height="3" fill="#000"/>
<text transform="translate(700.5 939) scale(0.99 1)" font-family="'Liberation Sans', Arial, sans-serif" font-size="9.5" fill="#000" stroke="#000" stroke-width="0.25" >13 Aug 12:00</text>
<rect x="765" y="927" width="1" height="3" fill="#000"/>
<text transform="translate(764.5 939) scale(0.99 1)" font-family="'Liberation Sans', Arial, sans-serif" font-size="9.5" fill="#000" stroke="#000" stroke-width="0.25" >16 Aug 04:00</text>
<rect x="829" y="927" width="1" height="3" fill="#000"/>
<text transform="translate(828.5 939) scale(0.99 1)" font-family="'Liberation Sans', Arial, sans-serif" font-size="9.5" fill="#000" stroke="#000" stroke-width="0.25" >20 Aug 20:00</text>
<rect x="893" y="927" width="1" height="3" fill="#000"/>
<text transform="translate(892.5 939) scale(0.99 1)" font-family="'Liberation Sans', Arial, sans-serif" font-size="9.5" fill="#000" stroke="#000" stroke-width="0.25" >23 Aug 12:00</text>
<rect x="957" y="927" width="1" height="3" fill="#000"/>
<text transform="translate(956.5 939) scale(0.99 1)" font-family="'Liberation Sans', Arial, sans-serif" font-size="9.5" fill="#000" stroke="#000" stroke-width="0.25" >28 Aug 04:00</text>
<rect x="1021" y="927" width="1" height="3" fill="#000"/>
<text transform="translate(1020.5 939) scale(0.99 1)" font-family="'Liberation Sans', Arial, sans-serif" font-size="9.5" fill="#000" stroke="#000" stroke-width="0.25" >1 Sep 23:00</text>
<rect x="1085" y="927" width="1" height="3" fill="#000"/>
<text transform="translate(1084.5 939) scale(0.99 1)" font-family="'Liberation Sans', Arial, sans-serif" font-size="9.5" fill="#000" stroke="#000" stroke-width="0.25" >4 Sep 12:00</text>
<rect x="1149" y="927" width="1" height="3" fill="#000"/>
<text transform="translate(1148.5 939) scale(0.99 1)" font-family="'Liberation Sans', Arial, sans-serif" font-size="9.5" fill="#000" stroke="#000" stroke-width="0.25" >9 Sep 04:00</text>
<rect x="1213" y="927" width="1" height="3" fill="#000"/>
<text transform="translate(1212.5 939) scale(0.99 1)" font-family="'Liberation Sans', Arial, sans-serif" font-size="9.5" fill="#000" stroke="#000" stroke-width="0.25" >11 Sep 20:00</text>
<rect x="1277" y="927" width="1" height="3" fill="#000"/>
<text transform="translate(1276.5 939) scale(0.99 1)" font-family="'Liberation Sans', Arial, sans-serif" font-size="9.5" fill="#000" stroke="#000" stroke-width="0.25" >16 Sep 12:00</text>
<path d="M0 37h7l-3.5-4z" fill="#000"/>
<text transform="translate(12 38) scale(0.975 1)" font-family="'Liberation Sans', Arial, sans-serif" font-size="9.5" fill="#000" stroke="#000" stroke-width="0.25" >GBPJPY-,H4&#160;&#160;135.366 135.439 135.165 135.201</text>
<text transform="translate(1 576) scale(0.99 1)" font-family="'Liberation Sans', Arial, sans-serif" font-size="9.5" fill="#000" stroke="#000" stroke-width="0.25" >MACD(12,26,9) 0.4753 0.4930</text>
<text transform="translate(1 779) scale(0.99 1)" font-family="'Liberation Sans', Arial, sans-serif" font-size="9.5" fill="#000" stroke="#000" stroke-width="0.25" >RSI(14) 64.3434</text>
<rect x="1424.5" y="112.5" width="99" height="32" fill="#fff" stroke="#ff0000" stroke-width="1"/>
<rect x="1414" y="128" width="7" height="1" fill="#ff0000"/><rect x="1420.5" y="126.5" width="3" height="3" fill="#fff" stroke="#ff0000" stroke-width="1"/>
<text x="1426" y="138.8" font-family="'Liberation Sans', Arial, sans-serif" font-size="29.5" fill="#ff0000" textLength="96.5" lengthAdjust="spacingAndGlyphs">134.778</text>
<text x="1380" y="232" font-family="'Liberation Sans', 'Noto Sans CJK SC', 'WenQuanYi Zen Hei', sans-serif" font-size="32" font-weight="500" fill="#000" textLength="160" lengthAdjust="spacingAndGlyphs">多空转折点</text>
<text x="1379" y="231" font-family="'Liberation Sans', 'Noto Sans CJK SC', 'WenQuanYi Zen Hei', sans-serif" font-size="32" font-weight="500" fill="#00ff00" textLength="160" lengthAdjust="spacingAndGlyphs">多空转折点</text>
<defs><linearGradient id="pb" gradientUnits="userSpaceOnUse" x1="0" y1="46" x2="0" y2="110"><stop offset="0" stop-color="#5a5aff"/><stop offset="0.4" stop-color="#3030e6"/><stop offset="1" stop-color="#0000b4"/></linearGradient></defs>
<rect x="0" y="46" width="221" height="66" fill="#fff"/>
<path d="M0 46h52v24h57v40h-109z" fill="url(#pb)"/>
<path d="M0.5 46.5h51v24h57v39h-108z" fill="none" stroke="#0000a0" stroke-width="1"/>
<path d="M167 46h52v64h-108v-40h56z" fill="url(#pb)"/>
<path d="M167.5 46.5h51v63h-107v-39h56z" fill="none" stroke="#0000a0" stroke-width="1"/>
<rect x="4" y="69" width="44" height="1" fill="#000078"/><rect x="4" y="70" width="44" height="1" fill="#8c8cff"/>
<rect x="171" y="69" width="44" height="1" fill="#000078"/><rect x="171" y="70" width="44" height="1" fill="#8c8cff"/>
<rect x="54" y="46" width="112" height="22" fill="#a0a0a0"/>
<rect x="55" y="47" width="20" height="20" fill="#e6e6e6"/><rect x="76" y="47" width="68" height="20" fill="#fff"/><rect x="145" y="47" width="20" height="20" fill="#e6e6e6"/>
<path d="M62 56h6l-3 3z" fill="#000"/><path d="M152 58h6l-3-3z" fill="#000"/>
<text x="141" y="61.5" text-anchor="end" font-family="'Liberation Sans', Arial, sans-serif" font-size="12.5" fill="#000">1.00</text>
<text x="12.5" y="62" font-family="'Liberation Sans', Arial, sans-serif" font-size="12.8" fill="#fff" textLength="25.5" lengthAdjust="spacingAndGlyphs">SELL</text>
<text x="179.5" y="62" font-family="'Liberation Sans', Arial, sans-serif" font-size="12.8" fill="#fff" textLength="24" lengthAdjust="spacingAndGlyphs">BUY</text>
<text x="23.5" y="101" font-family="'Liberation Sans', Arial, sans-serif" font-size="12.5" font-weight="bold" fill="#fff">135</text>
<text x="47.5" y="100.8" font-family="'Liberation Sans', Arial, sans-serif" font-size="35" fill="#fff" textLength="34" lengthAdjust="spacingAndGlyphs">20</text>
<text x="87" y="84.5" font-family="'Liberation Sans', Arial, sans-serif" font-size="12.5" font-weight="bold" fill="#fff">1</text>
<text x="134" y="101" font-family="'Liberation Sans', Arial, sans-serif" font-size="12.5" font-weight="bold" fill="#fff">135</text>
<text x="158.5" y="100.8" font-family="'Liberation Sans', Arial, sans-serif" font-size="35" fill="#fff" textLength="34" lengthAdjust="spacingAndGlyphs">29</text>
<text x="197.5" y="84.5" font-family="'Liberation Sans', Arial, sans-serif" font-size="12.5" font-weight="bold" fill="#fff">2</text>
</svg>
</body></html>
